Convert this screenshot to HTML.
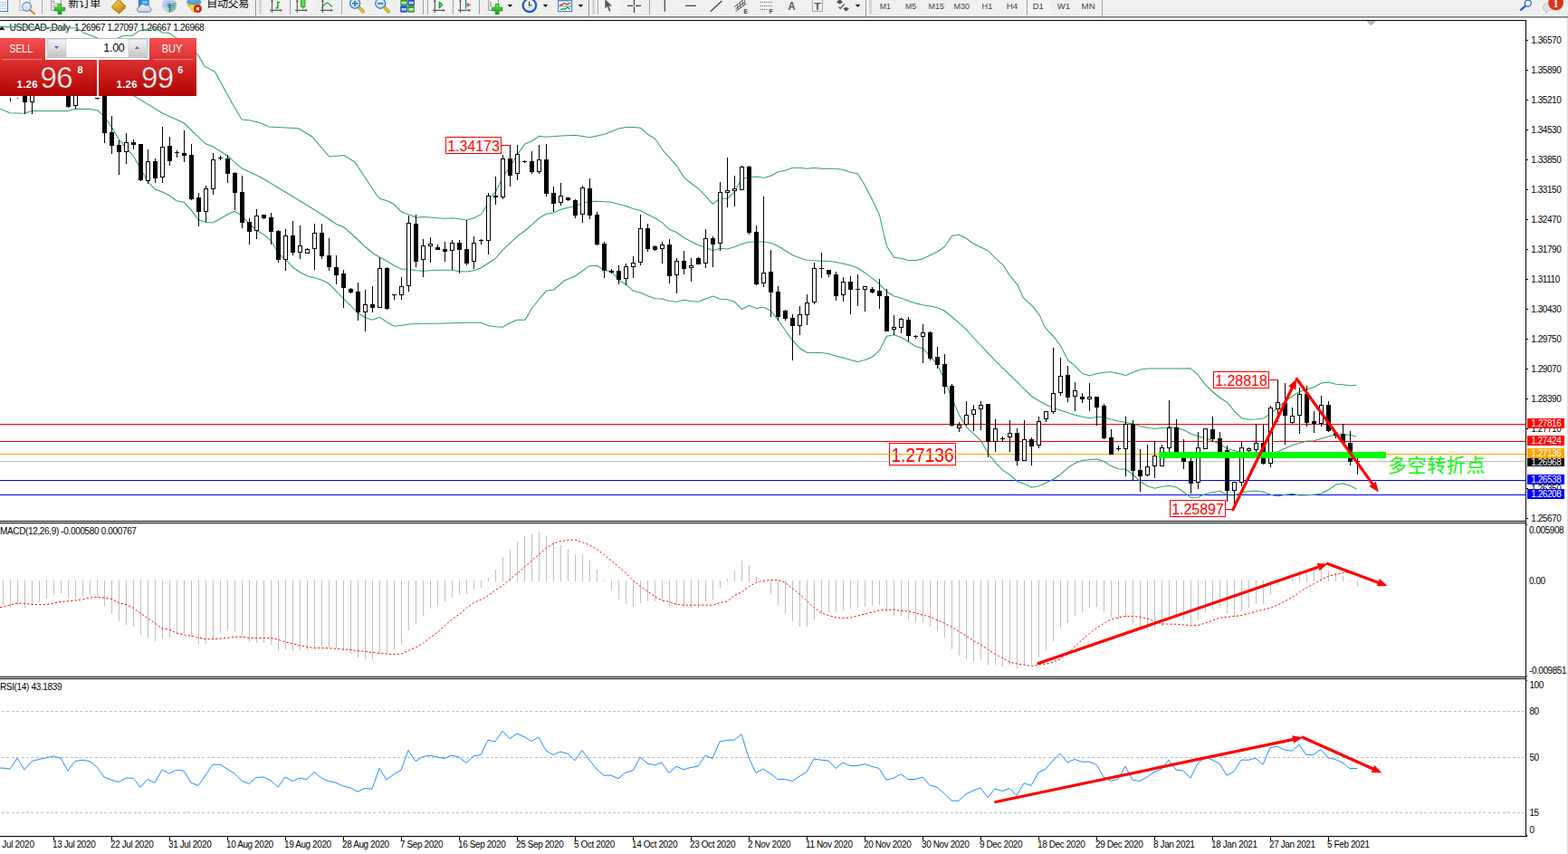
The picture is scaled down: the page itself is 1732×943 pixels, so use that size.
<!DOCTYPE html>
<html><head><meta charset="utf-8"><title>USDCAD Daily</title>
<style>
html,body{margin:0;padding:0;background:#fff;}
body{width:1732px;height:943px;overflow:hidden;position:relative;font-family:"Liberation Sans",sans-serif;}
svg{position:absolute;left:0;top:0;}
text{font-family:"Liberation Sans",sans-serif;}
.ax{font-size:10px;letter-spacing:-0.45px;fill:#000;}
.axw{font-size:10px;letter-spacing:-0.45px;fill:#fff;}
.tb{font-size:9.6px;fill:#444;letter-spacing:0;}
</style></head><body>
<svg width="1732" height="943" viewBox="0 0 1732 943">
<defs>
<linearGradient id="gs" x1="0" y1="0" x2="0" y2="1"><stop offset="0" stop-color="#f65050"/><stop offset="1" stop-color="#da3232"/></linearGradient>
<linearGradient id="gp" x1="0" y1="0" x2="0" y2="1"><stop offset="0" stop-color="#dc3030"/><stop offset="0.6" stop-color="#c41414"/><stop offset="1" stop-color="#ae0404"/></linearGradient>
<linearGradient id="gb" x1="0" y1="0" x2="0" y2="1"><stop offset="0" stop-color="#f2f2f2"/><stop offset="0.5" stop-color="#e0e0e0"/><stop offset="1" stop-color="#c4c4c4"/></linearGradient>
<linearGradient id="gt" x1="0" y1="0" x2="0" y2="1"><stop offset="0" stop-color="#6e6e6e"/><stop offset="1" stop-color="#b8b8b8"/></linearGradient>
</defs>

<rect x="0" y="0" width="1732" height="943" fill="#fff"/>
<rect x="1730.8" y="20" width="1.2" height="923" fill="#e0e0e0"/>
<g id="chart">
<path d="M-1 33 L2 28.2 L5.2 33 Z" fill="#000"/>
<text x="10.6" y="34.3" style="font-size:10.2px" fill="#000" textLength="215" lengthAdjust="spacing">USDCAD-,Daily&#160;&#160;1.26967 1.27097 1.26667 1.26968</text>
<line x1="0" y1="468.5" x2="1685" y2="468.5" stroke="#ff0000" stroke-width="1" shape-rendering="crispEdges"/>
<line x1="0" y1="487.5" x2="1685" y2="487.5" stroke="#ff0000" stroke-width="1" shape-rendering="crispEdges"/>
<line x1="0" y1="501.5" x2="1685" y2="501.5" stroke="#ffa500" stroke-width="1" shape-rendering="crispEdges"/>
<line x1="0" y1="509.5" x2="1685" y2="509.5" stroke="#c0c0c0" stroke-width="1" shape-rendering="crispEdges"/>
<line x1="0" y1="530.5" x2="1685" y2="530.5" stroke="#0000ff" stroke-width="1" shape-rendering="crispEdges"/>
<line x1="0" y1="546.5" x2="1685" y2="546.5" stroke="#0000ff" stroke-width="1" shape-rendering="crispEdges"/>
<polyline points="0,29.6 39.8,30 85,30.9 93,36.6 102.3,39.7 110.2,43.2 127.5,43.2 135.5,39.7 146.1,39.3 154.1,33.9 166,31.3 175.3,33.3 179.3,35.9 187.3,36.6 191.2,39.7 207.2,50.5 219.1,61.2 225.8,73.1 237.6,79.4 246,95 257,115 267,132 277,133 289,136.3 297,140 329.7,141.8 344.5,150.7 363.8,173 380,171.5 392,179 415.8,215 419.5,219.2 427.5,221.7 435.5,225.8 443.5,234.2 451.5,236.7 459.5,240.3 467.5,239.5 475.5,240 483.5,240.8 491.5,241.3 499.5,240.8 507.5,241.7 515.5,243 523.5,240.8 531.5,236.7 536.7,228.3 540,220 547.5,211.7 551.7,203.3 555.5,195 563.5,184.2 571.5,170.8 579.5,159.2 587.5,155.8 595.5,150.3 603.5,151.3 619.5,150 635.5,149.2 651.5,151.7 667.5,148.3 683.5,142 691.5,140.5 699.5,140.5 707.5,141.3 715.5,148.3 723.5,153.3 731.5,165 739.5,174.2 747.5,183.3 755.5,195.8 763.5,202.5 771.5,208.3 779.5,216.7 787.5,225.5 791.7,221.7 795.5,219.2 803.5,219.2 811.5,211.7 815,205 819.5,197.5 827.5,195.8 835.5,195 843.5,196.3 851.5,194.2 859.5,189.7 867.5,188.3 875.5,185.3 883.5,185.3 891.5,186.3 899.5,185.3 907.5,186.3 915.5,186.3 923.5,186.3 931.5,187.5 939.5,190.3 947.5,192 955.5,205 963.5,220.8 971.5,237.5 975,253.3 979.5,271.7 987.5,284.2 995.5,285.3 1003.5,287.5 1011.5,287.5 1019.5,285.8 1027.5,281.7 1035.5,278 1043.5,272.5 1051.5,260.3 1059.5,259.2 1067.5,263.3 1075.5,269.2 1083.5,273 1091.5,277 1099.5,285 1103.7,289.2 1108.2,292.7 1115.1,303.8 1124.1,314.8 1130.3,328.6 1141.3,338.9 1148.2,347.9 1154.4,361.6 1164.7,372.7 1171.5,381.7 1179.5,397.5 1187.5,404.2 1195.5,412.5 1203.5,414.7 1211.5,412.5 1219.5,411.3 1227.5,410.8 1235.5,412.5 1243.5,414.5 1251.5,411.3 1259.5,408 1267.5,407 1283.5,407 1299.5,407 1315,406.7 1323.5,414.2 1331.5,425 1339.5,432.5 1347.5,439.2 1355.5,444.2 1363.5,454.2 1371.5,461.7 1379.5,463.3 1387.5,463 1395.5,462 1403.5,456.7 1411.5,450 1419.5,443 1427.5,437.5 1435.5,432.5 1443.5,430 1451.5,427.5 1459.5,423 1467.5,422 1475.5,424.2 1483.5,424.7 1491.5,425.8 1498.3,425.3" fill="none" stroke="#2fa564" stroke-width="1.05" />
<polyline points="0,75 100,80 151,107.6 179,124.7 203,135.8 227,158.8 235,161.7 251,172 267,185.8 289,196.3 320,215 339.5,226.7 355.5,236.7 371.5,247.5 379.5,250.8 387.5,257.5 395.5,265 403.5,272.5 411.5,279.2 419.5,284.2 427.5,288.3 435.5,293.3 443.5,297.2 451.5,297.2 459.5,298.8 467.5,299.2 483.5,298.3 499.5,298.3 507.5,299.7 515.5,300 523.5,298.7 531.5,295.8 539.5,290.5 547.5,285 555.5,275.8 563.5,268.3 571.5,260.8 579.5,255 587.5,248.3 595.5,240.8 603.5,236.3 611.5,235 619.5,231.3 627.5,229.2 635.5,227.5 643.5,224.2 651.5,222.5 659.5,222.2 667.5,222.8 675.5,223.3 683.5,225.5 691.5,227.5 699.5,230.5 707.5,232.5 715.5,236.7 723.5,240.8 731.5,245.8 739.5,253.3 747.5,256.7 755.5,262.5 763.5,266.7 771.5,270.8 779.5,273.3 787.5,276.7 795.5,274.2 803.5,275 811.5,272.5 819.5,269.2 827.5,267.2 835.5,267 843.5,267 851.5,268.3 859.5,271.7 867.5,276.7 875.5,281.7 883.5,284.7 891.5,287.5 899.5,287.8 907.5,288.3 915.5,288.3 923.5,289.5 931.5,291.3 939.5,293 947.5,296 955.5,301.2 963.5,307.3 971.5,313.7 979.5,322 987.5,327 995.5,329.2 1003.5,332.2 1011.5,335 1019.5,336.7 1027.5,338 1035.5,339.7 1043.5,343.3 1051.5,350 1059.5,356.7 1067.5,364.2 1075.5,373 1083.5,381.5 1091.5,390.2 1099.5,398.3 1107.5,406.3 1115.5,414.2 1123.5,421.7 1131.5,430 1139.5,437.5 1147.5,442.5 1155.5,447 1163.5,450.5 1171.5,453.3 1179.5,455.8 1187.5,458.3 1195.5,460.3 1203.5,461.7 1211.5,460.5 1219.5,460.5 1227.5,463.3 1235.5,465 1243.5,466.5 1251.5,468 1259.5,470.4 1267.5,472.4 1275.5,473.3 1283.5,472.5 1291.5,471.7 1299.5,472 1307.5,474.7 1315.5,479 1323.5,481.7 1331.5,484 1339.5,486.7 1347.5,490.4 1355.5,495.5 1363.5,497.5 1371.5,500 1379.5,502 1387.5,503 1395.5,503 1403.5,501 1410,499.2 1419.5,495 1427.5,491.7 1435.5,489.2 1443.5,487 1451.5,486.7 1459.5,484.2 1467.5,482 1475.5,480 1483.5,479.7 1491.5,480.3 1498.3,482.2" fill="none" stroke="#2fa564" stroke-width="1.05" />
<polyline points="0,120 11,124.7 27,125.3 35,122.5 75,122.5 83,120.3 101,120.5 108,122 115,128.3 123,140 131,153.3 139,163.3 147,171.7 155,185.8 163,200 171,209 179,211.7 187,215.8 195,221.7 203,223.3 211,231.7 219,242.5 227,245.5 235,246 243,241.7 251,237 259,233.3 267,238 275.5,247.5 283.5,254.2 291.5,259.2 299.5,265.8 307.5,280 315.5,286.7 323.5,295 331.5,300.8 339.5,304.7 347.5,306.7 355.5,309.2 363.5,313.3 371.5,321.7 379.5,330 387.5,337.5 395.5,345.8 403.5,350.8 411.5,353.3 419.5,350.3 427.5,355.8 435.5,360.3 443.5,359.2 451.5,358 459.5,357.5 467.5,357.2 483.5,357.2 499.5,356.7 515.5,356.3 531.5,356.3 539.5,359.7 547.5,360.8 555.5,361.3 560,358.3 570.8,353.3 580,353.3 587.5,340.8 595.8,330 603.3,321.3 611.7,320 623.3,310 635,305 643.3,299.2 650.8,293.7 659.5,293.3 667.5,298.3 675.5,300 683.5,309.2 691.5,314.2 699.5,321.3 707.5,323.3 715.5,326.7 723.5,329.7 731.5,330 739.5,332.5 747.5,333.3 755.5,331.3 763.5,332.5 771.5,333.3 779.5,330 787.5,327 795.5,330.3 803.5,330.8 811.5,333.3 819.5,341.5 827.5,337.3 835.5,340.4 843.5,339.3 851.5,343.3 859.5,353.3 867.5,365 875.5,375.8 883.5,384.5 891.5,389.5 899.5,389.5 907.5,389.5 915.5,390.8 923.5,393.3 931.5,395 939.5,397.5 947.5,399.5 955.5,397.5 963.5,394.2 971.5,386.7 979.5,371.3 987.5,369.7 995.5,372.5 1003.5,377.5 1011.5,382.5 1019.5,385 1027.5,393.3 1035.5,402.5 1043.5,420 1051.5,440 1059.5,458.3 1067.5,471.3 1075.5,479.2 1083.5,486.7 1091.5,500.8 1099.5,510.8 1107.5,519.2 1115.5,524.2 1123.5,531.5 1131.5,534.2 1139.5,538.3 1147.5,536.7 1155.5,533 1163.5,529.2 1171.5,523.8 1179.5,516.3 1187.5,511.5 1195.5,508.5 1203.5,507.5 1211.5,507.1 1219.5,509.6 1227.5,514.6 1235.5,517.8 1243.5,518.3 1251.5,524 1259.5,531.7 1267.5,536.7 1275.5,539.2 1283.5,537.2 1291.5,536.2 1299.5,538 1307.5,543.3 1315.5,549.5 1323.5,549 1331.5,545.6 1339.5,543.6 1347.5,542.1 1355.5,546.7 1363.5,547 1371.5,543.5 1379.5,542.5 1387.5,542 1395.5,543.3 1403.5,546.3 1411.5,548 1419.5,546.3 1427.5,545.3 1435.5,547 1443.5,546.7 1451.5,546.3 1459.5,545 1467.5,540.8 1475.5,535.3 1483.5,533.8 1491.5,536.3 1498.3,540" fill="none" stroke="#2fa564" stroke-width="1.05" />
<g shape-rendering="crispEdges">
<rect x="11" y="108" width="1" height="4" fill="#000"/>
<rect x="27" y="90" width="1" height="36" fill="#000"/>
<rect x="25" y="90" width="5" height="23" fill="#000"/>
<rect x="35" y="90" width="1" height="36" fill="#000"/>
<rect x="33" y="90" width="5" height="23" fill="#000"/>
<rect x="34" y="91" width="3" height="21" fill="#fff"/>
<rect x="75" y="90" width="1" height="29" fill="#000"/>
<rect x="73" y="90" width="5" height="28" fill="#000"/>
<rect x="83" y="90" width="1" height="30" fill="#000"/>
<rect x="81" y="90" width="5" height="27" fill="#000"/>
<rect x="82" y="91" width="3" height="25" fill="#fff"/>
<rect x="107" y="108" width="1" height="2" fill="#000"/>
<rect x="105" y="108" width="5" height="1" fill="#000"/>
<rect x="115" y="90" width="1" height="68" fill="#000"/>
<rect x="113" y="90" width="5" height="57" fill="#000"/>
<rect x="123" y="128" width="1" height="42" fill="#000"/>
<rect x="121" y="146" width="5" height="15" fill="#000"/>
<rect x="131" y="155" width="1" height="38" fill="#000"/>
<rect x="129" y="160" width="5" height="8" fill="#000"/>
<rect x="139" y="147" width="1" height="34" fill="#000"/>
<rect x="137" y="157" width="5" height="11" fill="#000"/>
<rect x="138" y="158" width="3" height="9" fill="#fff"/>
<rect x="147" y="154" width="1" height="11" fill="#000"/>
<rect x="145" y="157" width="5" height="3" fill="#000"/>
<rect x="155" y="159" width="1" height="41" fill="#000"/>
<rect x="153" y="159" width="5" height="40" fill="#000"/>
<rect x="163" y="165" width="1" height="38" fill="#000"/>
<rect x="161" y="178" width="5" height="22" fill="#000"/>
<rect x="162" y="179" width="3" height="20" fill="#fff"/>
<rect x="171" y="175" width="1" height="27" fill="#000"/>
<rect x="169" y="178" width="5" height="19" fill="#000"/>
<rect x="179" y="140" width="1" height="62" fill="#000"/>
<rect x="177" y="162" width="5" height="34" fill="#000"/>
<rect x="178" y="163" width="3" height="32" fill="#fff"/>
<rect x="187" y="151" width="1" height="32" fill="#000"/>
<rect x="185" y="161" width="5" height="17" fill="#000"/>
<rect x="195" y="166" width="1" height="8" fill="#000"/>
<rect x="193" y="168" width="5" height="1" fill="#000"/>
<rect x="203" y="144" width="1" height="35" fill="#000"/>
<rect x="201" y="169" width="5" height="3" fill="#000"/>
<rect x="211" y="159" width="1" height="62" fill="#000"/>
<rect x="209" y="171" width="5" height="49" fill="#000"/>
<rect x="219" y="213" width="1" height="37" fill="#000"/>
<rect x="217" y="218" width="5" height="16" fill="#000"/>
<rect x="227" y="205" width="1" height="40" fill="#000"/>
<rect x="225" y="208" width="5" height="26" fill="#000"/>
<rect x="226" y="209" width="3" height="24" fill="#fff"/>
<rect x="235" y="169" width="1" height="46" fill="#000"/>
<rect x="233" y="176" width="5" height="33" fill="#000"/>
<rect x="234" y="177" width="3" height="31" fill="#fff"/>
<rect x="243" y="172" width="1" height="5" fill="#000"/>
<rect x="241" y="174" width="5" height="1" fill="#000"/>
<rect x="251" y="171" width="1" height="31" fill="#000"/>
<rect x="249" y="175" width="5" height="17" fill="#000"/>
<rect x="259" y="190" width="1" height="42" fill="#000"/>
<rect x="257" y="191" width="5" height="22" fill="#000"/>
<rect x="267" y="194" width="1" height="58" fill="#000"/>
<rect x="265" y="212" width="5" height="34" fill="#000"/>
<rect x="275" y="241" width="1" height="29" fill="#000"/>
<rect x="273" y="245" width="5" height="11" fill="#000"/>
<rect x="283" y="231" width="1" height="33" fill="#000"/>
<rect x="281" y="238" width="5" height="17" fill="#000"/>
<rect x="282" y="239" width="3" height="15" fill="#fff"/>
<rect x="291" y="237" width="1" height="5" fill="#000"/>
<rect x="289" y="237" width="5" height="4" fill="#000"/>
<rect x="299" y="235" width="1" height="35" fill="#000"/>
<rect x="297" y="240" width="5" height="16" fill="#000"/>
<rect x="307" y="254" width="1" height="36" fill="#000"/>
<rect x="305" y="255" width="5" height="32" fill="#000"/>
<rect x="315" y="253" width="1" height="46" fill="#000"/>
<rect x="313" y="260" width="5" height="27" fill="#000"/>
<rect x="314" y="261" width="3" height="25" fill="#fff"/>
<rect x="323" y="244" width="1" height="38" fill="#000"/>
<rect x="321" y="260" width="5" height="19" fill="#000"/>
<rect x="331" y="249" width="1" height="37" fill="#000"/>
<rect x="329" y="271" width="5" height="8" fill="#000"/>
<rect x="330" y="272" width="3" height="6" fill="#fff"/>
<rect x="339" y="274" width="1" height="6" fill="#000"/>
<rect x="337" y="275" width="5" height="5" fill="#000"/>
<rect x="338" y="276" width="3" height="3" fill="#fff"/>
<rect x="347" y="247" width="1" height="51" fill="#000"/>
<rect x="345" y="257" width="5" height="18" fill="#000"/>
<rect x="346" y="258" width="3" height="16" fill="#fff"/>
<rect x="355" y="247" width="1" height="39" fill="#000"/>
<rect x="353" y="257" width="5" height="26" fill="#000"/>
<rect x="363" y="263" width="1" height="36" fill="#000"/>
<rect x="361" y="282" width="5" height="13" fill="#000"/>
<rect x="371" y="282" width="1" height="32" fill="#000"/>
<rect x="369" y="295" width="5" height="9" fill="#000"/>
<rect x="379" y="298" width="1" height="42" fill="#000"/>
<rect x="377" y="302" width="5" height="16" fill="#000"/>
<rect x="387" y="318" width="1" height="6" fill="#000"/>
<rect x="385" y="319" width="5" height="4" fill="#000"/>
<rect x="395" y="312" width="1" height="42" fill="#000"/>
<rect x="393" y="322" width="5" height="23" fill="#000"/>
<rect x="403" y="320" width="1" height="46" fill="#000"/>
<rect x="401" y="336" width="5" height="9" fill="#000"/>
<rect x="402" y="337" width="3" height="7" fill="#fff"/>
<rect x="411" y="316" width="1" height="29" fill="#000"/>
<rect x="409" y="336" width="5" height="4" fill="#000"/>
<rect x="419" y="284" width="1" height="56" fill="#000"/>
<rect x="417" y="296" width="5" height="44" fill="#000"/>
<rect x="418" y="297" width="3" height="42" fill="#fff"/>
<rect x="427" y="295" width="1" height="47" fill="#000"/>
<rect x="425" y="296" width="5" height="45" fill="#000"/>
<rect x="435" y="325" width="1" height="6" fill="#000"/>
<rect x="433" y="325" width="5" height="1" fill="#000"/>
<rect x="443" y="306" width="1" height="25" fill="#000"/>
<rect x="441" y="316" width="5" height="10" fill="#000"/>
<rect x="442" y="317" width="3" height="8" fill="#fff"/>
<rect x="451" y="238" width="1" height="84" fill="#000"/>
<rect x="449" y="246" width="5" height="70" fill="#000"/>
<rect x="450" y="247" width="3" height="68" fill="#fff"/>
<rect x="459" y="237" width="1" height="58" fill="#000"/>
<rect x="457" y="247" width="5" height="42" fill="#000"/>
<rect x="467" y="264" width="1" height="42" fill="#000"/>
<rect x="465" y="271" width="5" height="16" fill="#000"/>
<rect x="466" y="272" width="3" height="14" fill="#fff"/>
<rect x="475" y="262" width="1" height="28" fill="#000"/>
<rect x="473" y="269" width="5" height="3" fill="#000"/>
<rect x="474" y="270" width="3" height="1" fill="#fff"/>
<rect x="483" y="270" width="1" height="6" fill="#000"/>
<rect x="481" y="273" width="5" height="3" fill="#000"/>
<rect x="491" y="267" width="1" height="22" fill="#000"/>
<rect x="489" y="275" width="5" height="3" fill="#000"/>
<rect x="499" y="265" width="1" height="33" fill="#000"/>
<rect x="497" y="268" width="5" height="9" fill="#000"/>
<rect x="498" y="269" width="3" height="7" fill="#fff"/>
<rect x="507" y="265" width="1" height="37" fill="#000"/>
<rect x="505" y="268" width="5" height="8" fill="#000"/>
<rect x="515" y="243" width="1" height="50" fill="#000"/>
<rect x="513" y="275" width="5" height="16" fill="#000"/>
<rect x="523" y="261" width="1" height="36" fill="#000"/>
<rect x="521" y="268" width="5" height="21" fill="#000"/>
<rect x="522" y="269" width="3" height="19" fill="#fff"/>
<rect x="531" y="264" width="1" height="6" fill="#000"/>
<rect x="529" y="265" width="5" height="1" fill="#000"/>
<rect x="539" y="213" width="1" height="68" fill="#000"/>
<rect x="537" y="216" width="5" height="50" fill="#000"/>
<rect x="538" y="217" width="3" height="48" fill="#fff"/>
<rect x="547" y="195" width="1" height="31" fill="#000"/>
<rect x="545" y="216" width="5" height="2" fill="#000"/>
<rect x="555" y="171" width="1" height="49" fill="#000"/>
<rect x="553" y="175" width="5" height="43" fill="#000"/>
<rect x="554" y="176" width="3" height="41" fill="#fff"/>
<rect x="563" y="160" width="1" height="46" fill="#000"/>
<rect x="561" y="175" width="5" height="19" fill="#000"/>
<rect x="571" y="160" width="1" height="39" fill="#000"/>
<rect x="569" y="170" width="5" height="22" fill="#000"/>
<rect x="570" y="171" width="3" height="20" fill="#fff"/>
<rect x="579" y="177" width="1" height="3" fill="#000"/>
<rect x="577" y="178" width="5" height="1" fill="#000"/>
<rect x="587" y="167" width="1" height="25" fill="#000"/>
<rect x="585" y="178" width="5" height="12" fill="#000"/>
<rect x="595" y="160" width="1" height="32" fill="#000"/>
<rect x="593" y="176" width="5" height="14" fill="#000"/>
<rect x="594" y="177" width="3" height="12" fill="#fff"/>
<rect x="603" y="159" width="1" height="58" fill="#000"/>
<rect x="601" y="176" width="5" height="38" fill="#000"/>
<rect x="611" y="206" width="1" height="28" fill="#000"/>
<rect x="609" y="213" width="5" height="12" fill="#000"/>
<rect x="619" y="202" width="1" height="25" fill="#000"/>
<rect x="617" y="216" width="5" height="8" fill="#000"/>
<rect x="618" y="217" width="3" height="6" fill="#fff"/>
<rect x="627" y="218" width="1" height="4" fill="#000"/>
<rect x="625" y="218" width="5" height="3" fill="#000"/>
<rect x="635" y="220" width="1" height="21" fill="#000"/>
<rect x="633" y="221" width="5" height="17" fill="#000"/>
<rect x="643" y="205" width="1" height="41" fill="#000"/>
<rect x="641" y="207" width="5" height="30" fill="#000"/>
<rect x="642" y="208" width="3" height="28" fill="#fff"/>
<rect x="651" y="197" width="1" height="45" fill="#000"/>
<rect x="649" y="208" width="5" height="30" fill="#000"/>
<rect x="659" y="234" width="1" height="37" fill="#000"/>
<rect x="657" y="237" width="5" height="33" fill="#000"/>
<rect x="667" y="267" width="1" height="40" fill="#000"/>
<rect x="665" y="269" width="5" height="30" fill="#000"/>
<rect x="675" y="297" width="1" height="5" fill="#000"/>
<rect x="673" y="299" width="5" height="2" fill="#000"/>
<rect x="683" y="293" width="1" height="21" fill="#000"/>
<rect x="681" y="299" width="5" height="10" fill="#000"/>
<rect x="691" y="291" width="1" height="24" fill="#000"/>
<rect x="689" y="294" width="5" height="14" fill="#000"/>
<rect x="690" y="295" width="3" height="12" fill="#fff"/>
<rect x="699" y="283" width="1" height="24" fill="#000"/>
<rect x="697" y="290" width="5" height="5" fill="#000"/>
<rect x="698" y="291" width="3" height="3" fill="#fff"/>
<rect x="707" y="237" width="1" height="56" fill="#000"/>
<rect x="705" y="252" width="5" height="38" fill="#000"/>
<rect x="706" y="253" width="3" height="36" fill="#fff"/>
<rect x="715" y="247" width="1" height="31" fill="#000"/>
<rect x="713" y="252" width="5" height="23" fill="#000"/>
<rect x="723" y="271" width="1" height="6" fill="#000"/>
<rect x="721" y="272" width="5" height="4" fill="#000"/>
<rect x="731" y="267" width="1" height="24" fill="#000"/>
<rect x="729" y="270" width="5" height="5" fill="#000"/>
<rect x="730" y="271" width="3" height="3" fill="#fff"/>
<rect x="739" y="264" width="1" height="49" fill="#000"/>
<rect x="737" y="270" width="5" height="35" fill="#000"/>
<rect x="747" y="285" width="1" height="39" fill="#000"/>
<rect x="745" y="288" width="5" height="16" fill="#000"/>
<rect x="746" y="289" width="3" height="14" fill="#fff"/>
<rect x="755" y="277" width="1" height="26" fill="#000"/>
<rect x="753" y="288" width="5" height="9" fill="#000"/>
<rect x="763" y="285" width="1" height="26" fill="#000"/>
<rect x="761" y="293" width="5" height="3" fill="#000"/>
<rect x="762" y="294" width="3" height="1" fill="#fff"/>
<rect x="771" y="284" width="1" height="8" fill="#000"/>
<rect x="769" y="285" width="5" height="7" fill="#000"/>
<rect x="779" y="253" width="1" height="43" fill="#000"/>
<rect x="777" y="263" width="5" height="28" fill="#000"/>
<rect x="778" y="264" width="3" height="26" fill="#fff"/>
<rect x="787" y="261" width="1" height="34" fill="#000"/>
<rect x="785" y="263" width="5" height="7" fill="#000"/>
<rect x="795" y="201" width="1" height="76" fill="#000"/>
<rect x="793" y="212" width="5" height="57" fill="#000"/>
<rect x="794" y="213" width="3" height="55" fill="#fff"/>
<rect x="803" y="174" width="1" height="55" fill="#000"/>
<rect x="801" y="210" width="5" height="3" fill="#000"/>
<rect x="802" y="211" width="3" height="1" fill="#fff"/>
<rect x="811" y="194" width="1" height="34" fill="#000"/>
<rect x="809" y="208" width="5" height="3" fill="#000"/>
<rect x="810" y="209" width="3" height="1" fill="#fff"/>
<rect x="819" y="183" width="1" height="27" fill="#000"/>
<rect x="817" y="184" width="5" height="26" fill="#000"/>
<rect x="818" y="185" width="3" height="24" fill="#fff"/>
<rect x="827" y="183" width="1" height="76" fill="#000"/>
<rect x="825" y="184" width="5" height="73" fill="#000"/>
<rect x="835" y="249" width="1" height="66" fill="#000"/>
<rect x="833" y="256" width="5" height="58" fill="#000"/>
<rect x="843" y="217" width="1" height="100" fill="#000"/>
<rect x="841" y="301" width="5" height="12" fill="#000"/>
<rect x="842" y="302" width="3" height="10" fill="#fff"/>
<rect x="851" y="276" width="1" height="74" fill="#000"/>
<rect x="849" y="300" width="5" height="23" fill="#000"/>
<rect x="859" y="316" width="1" height="38" fill="#000"/>
<rect x="857" y="322" width="5" height="28" fill="#000"/>
<rect x="867" y="342" width="1" height="12" fill="#000"/>
<rect x="865" y="343" width="5" height="9" fill="#000"/>
<rect x="875" y="347" width="1" height="51" fill="#000"/>
<rect x="873" y="351" width="5" height="9" fill="#000"/>
<rect x="883" y="338" width="1" height="32" fill="#000"/>
<rect x="881" y="347" width="5" height="13" fill="#000"/>
<rect x="882" y="348" width="3" height="11" fill="#fff"/>
<rect x="891" y="325" width="1" height="34" fill="#000"/>
<rect x="889" y="334" width="5" height="14" fill="#000"/>
<rect x="890" y="335" width="3" height="12" fill="#fff"/>
<rect x="899" y="290" width="1" height="46" fill="#000"/>
<rect x="897" y="296" width="5" height="38" fill="#000"/>
<rect x="898" y="297" width="3" height="36" fill="#fff"/>
<rect x="907" y="279" width="1" height="28" fill="#000"/>
<rect x="905" y="296" width="5" height="1" fill="#000"/>
<rect x="915" y="298" width="1" height="8" fill="#000"/>
<rect x="913" y="298" width="5" height="5" fill="#000"/>
<rect x="923" y="300" width="1" height="32" fill="#000"/>
<rect x="921" y="303" width="5" height="24" fill="#000"/>
<rect x="931" y="306" width="1" height="27" fill="#000"/>
<rect x="929" y="311" width="5" height="15" fill="#000"/>
<rect x="930" y="312" width="3" height="13" fill="#fff"/>
<rect x="939" y="305" width="1" height="42" fill="#000"/>
<rect x="937" y="311" width="5" height="9" fill="#000"/>
<rect x="947" y="303" width="1" height="35" fill="#000"/>
<rect x="945" y="319" width="5" height="1" fill="#000"/>
<rect x="955" y="316" width="1" height="28" fill="#000"/>
<rect x="953" y="316" width="5" height="4" fill="#000"/>
<rect x="954" y="317" width="3" height="2" fill="#fff"/>
<rect x="963" y="317" width="1" height="7" fill="#000"/>
<rect x="961" y="319" width="5" height="4" fill="#000"/>
<rect x="971" y="308" width="1" height="33" fill="#000"/>
<rect x="969" y="321" width="5" height="6" fill="#000"/>
<rect x="979" y="319" width="1" height="47" fill="#000"/>
<rect x="977" y="327" width="5" height="39" fill="#000"/>
<rect x="987" y="348" width="1" height="22" fill="#000"/>
<rect x="985" y="361" width="5" height="3" fill="#000"/>
<rect x="986" y="362" width="3" height="1" fill="#fff"/>
<rect x="995" y="351" width="1" height="17" fill="#000"/>
<rect x="993" y="352" width="5" height="10" fill="#000"/>
<rect x="994" y="353" width="3" height="8" fill="#fff"/>
<rect x="1003" y="350" width="1" height="27" fill="#000"/>
<rect x="1001" y="353" width="5" height="18" fill="#000"/>
<rect x="1011" y="370" width="1" height="4" fill="#000"/>
<rect x="1009" y="371" width="5" height="1" fill="#000"/>
<rect x="1019" y="358" width="1" height="43" fill="#000"/>
<rect x="1017" y="367" width="5" height="5" fill="#000"/>
<rect x="1018" y="368" width="3" height="3" fill="#fff"/>
<rect x="1027" y="366" width="1" height="32" fill="#000"/>
<rect x="1025" y="367" width="5" height="29" fill="#000"/>
<rect x="1035" y="383" width="1" height="24" fill="#000"/>
<rect x="1033" y="394" width="5" height="9" fill="#000"/>
<rect x="1043" y="391" width="1" height="44" fill="#000"/>
<rect x="1041" y="402" width="5" height="25" fill="#000"/>
<rect x="1051" y="424" width="1" height="47" fill="#000"/>
<rect x="1049" y="426" width="5" height="44" fill="#000"/>
<rect x="1059" y="466" width="1" height="11" fill="#000"/>
<rect x="1057" y="469" width="5" height="4" fill="#000"/>
<rect x="1058" y="470" width="3" height="2" fill="#fff"/>
<rect x="1067" y="443" width="1" height="27" fill="#000"/>
<rect x="1065" y="458" width="5" height="11" fill="#000"/>
<rect x="1066" y="459" width="3" height="9" fill="#fff"/>
<rect x="1075" y="447" width="1" height="29" fill="#000"/>
<rect x="1073" y="452" width="5" height="6" fill="#000"/>
<rect x="1074" y="453" width="3" height="4" fill="#fff"/>
<rect x="1083" y="443" width="1" height="32" fill="#000"/>
<rect x="1081" y="447" width="5" height="5" fill="#000"/>
<rect x="1082" y="448" width="3" height="3" fill="#fff"/>
<rect x="1091" y="446" width="1" height="59" fill="#000"/>
<rect x="1089" y="446" width="5" height="42" fill="#000"/>
<rect x="1099" y="463" width="1" height="36" fill="#000"/>
<rect x="1097" y="473" width="5" height="15" fill="#000"/>
<rect x="1098" y="474" width="3" height="13" fill="#fff"/>
<rect x="1107" y="482" width="1" height="5" fill="#000"/>
<rect x="1105" y="484" width="5" height="1" fill="#000"/>
<rect x="1115" y="464" width="1" height="35" fill="#000"/>
<rect x="1113" y="478" width="5" height="5" fill="#000"/>
<rect x="1114" y="479" width="3" height="3" fill="#fff"/>
<rect x="1123" y="473" width="1" height="41" fill="#000"/>
<rect x="1121" y="478" width="5" height="31" fill="#000"/>
<rect x="1131" y="464" width="1" height="44" fill="#000"/>
<rect x="1129" y="485" width="5" height="24" fill="#000"/>
<rect x="1130" y="486" width="3" height="22" fill="#fff"/>
<rect x="1139" y="483" width="1" height="31" fill="#000"/>
<rect x="1137" y="485" width="5" height="8" fill="#000"/>
<rect x="1147" y="460" width="1" height="35" fill="#000"/>
<rect x="1145" y="465" width="5" height="27" fill="#000"/>
<rect x="1146" y="466" width="3" height="25" fill="#fff"/>
<rect x="1155" y="454" width="1" height="12" fill="#000"/>
<rect x="1153" y="454" width="5" height="9" fill="#000"/>
<rect x="1154" y="455" width="3" height="7" fill="#fff"/>
<rect x="1163" y="384" width="1" height="73" fill="#000"/>
<rect x="1161" y="434" width="5" height="21" fill="#000"/>
<rect x="1162" y="435" width="3" height="19" fill="#fff"/>
<rect x="1171" y="395" width="1" height="42" fill="#000"/>
<rect x="1169" y="415" width="5" height="19" fill="#000"/>
<rect x="1170" y="416" width="3" height="17" fill="#fff"/>
<rect x="1179" y="404" width="1" height="40" fill="#000"/>
<rect x="1177" y="414" width="5" height="25" fill="#000"/>
<rect x="1187" y="422" width="1" height="32" fill="#000"/>
<rect x="1185" y="431" width="5" height="7" fill="#000"/>
<rect x="1186" y="432" width="3" height="5" fill="#fff"/>
<rect x="1195" y="434" width="1" height="11" fill="#000"/>
<rect x="1193" y="438" width="5" height="3" fill="#000"/>
<rect x="1203" y="423" width="1" height="31" fill="#000"/>
<rect x="1201" y="438" width="5" height="3" fill="#000"/>
<rect x="1202" y="439" width="3" height="1" fill="#fff"/>
<rect x="1211" y="438" width="1" height="32" fill="#000"/>
<rect x="1209" y="438" width="5" height="12" fill="#000"/>
<rect x="1219" y="446" width="1" height="39" fill="#000"/>
<rect x="1217" y="448" width="5" height="36" fill="#000"/>
<rect x="1227" y="474" width="1" height="28" fill="#000"/>
<rect x="1225" y="483" width="5" height="19" fill="#000"/>
<rect x="1235" y="492" width="1" height="6" fill="#000"/>
<rect x="1233" y="495" width="5" height="1" fill="#000"/>
<rect x="1243" y="460" width="1" height="66" fill="#000"/>
<rect x="1241" y="468" width="5" height="28" fill="#000"/>
<rect x="1242" y="469" width="3" height="26" fill="#fff"/>
<rect x="1251" y="464" width="1" height="66" fill="#000"/>
<rect x="1249" y="468" width="5" height="52" fill="#000"/>
<rect x="1259" y="496" width="1" height="47" fill="#000"/>
<rect x="1257" y="519" width="5" height="7" fill="#000"/>
<rect x="1267" y="491" width="1" height="35" fill="#000"/>
<rect x="1265" y="515" width="5" height="10" fill="#000"/>
<rect x="1266" y="516" width="3" height="8" fill="#fff"/>
<rect x="1275" y="487" width="1" height="41" fill="#000"/>
<rect x="1273" y="503" width="5" height="12" fill="#000"/>
<rect x="1274" y="504" width="3" height="10" fill="#fff"/>
<rect x="1283" y="491" width="1" height="24" fill="#000"/>
<rect x="1281" y="494" width="5" height="21" fill="#000"/>
<rect x="1282" y="495" width="3" height="19" fill="#fff"/>
<rect x="1291" y="442" width="1" height="57" fill="#000"/>
<rect x="1289" y="472" width="5" height="23" fill="#000"/>
<rect x="1290" y="473" width="3" height="21" fill="#fff"/>
<rect x="1299" y="463" width="1" height="38" fill="#000"/>
<rect x="1297" y="472" width="5" height="29" fill="#000"/>
<rect x="1307" y="485" width="1" height="33" fill="#000"/>
<rect x="1305" y="506" width="5" height="4" fill="#000"/>
<rect x="1315" y="505" width="1" height="40" fill="#000"/>
<rect x="1313" y="509" width="5" height="25" fill="#000"/>
<rect x="1323" y="477" width="1" height="63" fill="#000"/>
<rect x="1321" y="494" width="5" height="39" fill="#000"/>
<rect x="1322" y="495" width="3" height="37" fill="#fff"/>
<rect x="1331" y="473" width="1" height="23" fill="#000"/>
<rect x="1329" y="473" width="5" height="23" fill="#000"/>
<rect x="1330" y="474" width="3" height="21" fill="#fff"/>
<rect x="1339" y="460" width="1" height="28" fill="#000"/>
<rect x="1337" y="474" width="5" height="11" fill="#000"/>
<rect x="1347" y="477" width="1" height="22" fill="#000"/>
<rect x="1345" y="484" width="5" height="15" fill="#000"/>
<rect x="1355" y="492" width="1" height="62" fill="#000"/>
<rect x="1353" y="497" width="5" height="45" fill="#000"/>
<rect x="1363" y="532" width="1" height="30" fill="#000"/>
<rect x="1361" y="532" width="5" height="10" fill="#000"/>
<rect x="1362" y="533" width="3" height="8" fill="#fff"/>
<rect x="1371" y="488" width="1" height="49" fill="#000"/>
<rect x="1369" y="494" width="5" height="39" fill="#000"/>
<rect x="1370" y="495" width="3" height="37" fill="#fff"/>
<rect x="1379" y="494" width="1" height="5" fill="#000"/>
<rect x="1377" y="495" width="5" height="3" fill="#000"/>
<rect x="1378" y="496" width="3" height="1" fill="#fff"/>
<rect x="1387" y="468" width="1" height="31" fill="#000"/>
<rect x="1385" y="489" width="5" height="8" fill="#000"/>
<rect x="1386" y="490" width="3" height="6" fill="#fff"/>
<rect x="1395" y="468" width="1" height="45" fill="#000"/>
<rect x="1393" y="489" width="5" height="23" fill="#000"/>
<rect x="1403" y="448" width="1" height="68" fill="#000"/>
<rect x="1401" y="450" width="5" height="62" fill="#000"/>
<rect x="1402" y="451" width="3" height="60" fill="#fff"/>
<rect x="1411" y="420" width="1" height="46" fill="#000"/>
<rect x="1409" y="444" width="5" height="8" fill="#000"/>
<rect x="1410" y="445" width="3" height="6" fill="#fff"/>
<rect x="1419" y="423" width="1" height="68" fill="#000"/>
<rect x="1417" y="445" width="5" height="14" fill="#000"/>
<rect x="1427" y="450" width="1" height="18" fill="#000"/>
<rect x="1425" y="459" width="5" height="8" fill="#000"/>
<rect x="1426" y="460" width="3" height="6" fill="#fff"/>
<rect x="1435" y="428" width="1" height="51" fill="#000"/>
<rect x="1433" y="435" width="5" height="24" fill="#000"/>
<rect x="1434" y="436" width="3" height="22" fill="#fff"/>
<rect x="1443" y="426" width="1" height="45" fill="#000"/>
<rect x="1441" y="435" width="5" height="32" fill="#000"/>
<rect x="1451" y="454" width="1" height="24" fill="#000"/>
<rect x="1449" y="465" width="5" height="3" fill="#000"/>
<rect x="1459" y="437" width="1" height="34" fill="#000"/>
<rect x="1457" y="447" width="5" height="21" fill="#000"/>
<rect x="1458" y="448" width="3" height="19" fill="#fff"/>
<rect x="1467" y="443" width="1" height="34" fill="#000"/>
<rect x="1465" y="447" width="5" height="29" fill="#000"/>
<rect x="1475" y="478" width="1" height="6" fill="#000"/>
<rect x="1473" y="478" width="5" height="3" fill="#000"/>
<rect x="1483" y="468" width="1" height="22" fill="#000"/>
<rect x="1481" y="479" width="5" height="10" fill="#000"/>
<rect x="1491" y="476" width="1" height="38" fill="#000"/>
<rect x="1489" y="489" width="5" height="21" fill="#000"/>
<rect x="1499" y="505" width="1" height="19" fill="#000"/>
<rect x="1497" y="509" width="5" height="1" fill="#000"/>
<rect x="19" y="108" width="1" height="1" fill="#000"/>
</g>
<rect x="1280" y="499" width="251" height="7" fill="#00ff00" shape-rendering="crispEdges"/>
<rect x="492.5" y="151.5" width="61" height="18" fill="#fff" stroke="#ff0000" stroke-width="1" shape-rendering="crispEdges"/>
<text x="523.0" y="167" text-anchor="middle" style="font-size:17px" fill="#ff0000" textLength="57.5" lengthAdjust="spacingAndGlyphs">1.34173</text>
<path d="M553.5 160.5 H563.5" stroke="#ff0000" stroke-width="1" shape-rendering="crispEdges" fill="none"/>
<rect x="1340.5" y="410.5" width="61" height="18" fill="#fff" stroke="#ff0000" stroke-width="1" shape-rendering="crispEdges"/>
<text x="1371.0" y="425.8" text-anchor="middle" style="font-size:17px" fill="#ff0000" textLength="57.5" lengthAdjust="spacingAndGlyphs">1.28818</text>
<path d="M1401.5 419.5 H1411.5" stroke="#ff0000" stroke-width="1" shape-rendering="crispEdges" fill="none"/>
<rect x="1292.5" y="552.5" width="61" height="18" fill="#fff" stroke="#ff0000" stroke-width="1" shape-rendering="crispEdges"/>
<text x="1323.0" y="567.8" text-anchor="middle" style="font-size:17px" fill="#ff0000" textLength="57.5" lengthAdjust="spacingAndGlyphs">1.25897</text>
<path d="M1353.5 562.5 H1362" stroke="#ff0000" stroke-width="1" shape-rendering="crispEdges" fill="none"/>
<rect x="982.5" y="489.5" width="73" height="24" fill="#fff" stroke="#ff0000" stroke-width="1" shape-rendering="crispEdges"/>
<text x="1019.0" y="509.8" text-anchor="middle" style="font-size:22px" fill="#ff0000" textLength="69" lengthAdjust="spacingAndGlyphs">1.27136</text>
<line x1="982" y1="501.5" x2="1056" y2="501.5" stroke="#ffa500" stroke-width="1" shape-rendering="crispEdges"/>
<line x1="1362" y1="562.5" x2="1428.1" y2="426.7" stroke="#ff0000" stroke-width="3.2" stroke-linecap="round"/>
<polygon points="1432.3,418.2 1431.4,430.6 1423.1,426.5" fill="#ff0000"/>
<line x1="1432.3" y1="418.2" x2="1517.2" y2="535.9" stroke="#ff0000" stroke-width="3.2" stroke-linecap="round"/>
<polygon points="1522.8,543.6 1512.3,537 1519.8,531.6" fill="#ff0000"/>
<text x="1533" y="520.5" style="font-family:'Liberation Sans','Noto Sans CJK SC',sans-serif;font-size:21px;letter-spacing:0.6px" fill="#0cf80c">多空转折点</text>
</g>
<g id="macd">
<g shape-rendering="crispEdges">
<rect x="3" y="641" width="1" height="27" fill="#c0c0c0"/>
<rect x="11" y="641" width="1" height="30" fill="#c0c0c0"/>
<rect x="19" y="641" width="1" height="27" fill="#c0c0c0"/>
<rect x="27" y="641" width="1" height="30" fill="#c0c0c0"/>
<rect x="35" y="641" width="1" height="27" fill="#c0c0c0"/>
<rect x="43" y="641" width="1" height="24" fill="#c0c0c0"/>
<rect x="51" y="641" width="1" height="20" fill="#c0c0c0"/>
<rect x="59" y="641" width="1" height="16" fill="#c0c0c0"/>
<rect x="67" y="641" width="1" height="14" fill="#c0c0c0"/>
<rect x="75" y="641" width="1" height="19" fill="#c0c0c0"/>
<rect x="83" y="641" width="1" height="19" fill="#c0c0c0"/>
<rect x="91" y="641" width="1" height="17" fill="#c0c0c0"/>
<rect x="99" y="641" width="1" height="16" fill="#c0c0c0"/>
<rect x="107" y="641" width="1" height="19" fill="#c0c0c0"/>
<rect x="115" y="641" width="1" height="28" fill="#c0c0c0"/>
<rect x="123" y="641" width="1" height="37" fill="#c0c0c0"/>
<rect x="131" y="641" width="1" height="45" fill="#c0c0c0"/>
<rect x="139" y="641" width="1" height="49" fill="#c0c0c0"/>
<rect x="147" y="641" width="1" height="51" fill="#c0c0c0"/>
<rect x="155" y="641" width="1" height="60" fill="#c0c0c0"/>
<rect x="163" y="641" width="1" height="63" fill="#c0c0c0"/>
<rect x="171" y="641" width="1" height="67" fill="#c0c0c0"/>
<rect x="179" y="641" width="1" height="64" fill="#c0c0c0"/>
<rect x="187" y="641" width="1" height="63" fill="#c0c0c0"/>
<rect x="195" y="641" width="1" height="59" fill="#c0c0c0"/>
<rect x="203" y="641" width="1" height="58" fill="#c0c0c0"/>
<rect x="211" y="641" width="1" height="63" fill="#c0c0c0"/>
<rect x="219" y="641" width="1" height="70" fill="#c0c0c0"/>
<rect x="227" y="641" width="1" height="70" fill="#c0c0c0"/>
<rect x="235" y="641" width="1" height="64" fill="#c0c0c0"/>
<rect x="243" y="641" width="1" height="58" fill="#c0c0c0"/>
<rect x="251" y="641" width="1" height="55" fill="#c0c0c0"/>
<rect x="259" y="641" width="1" height="57" fill="#c0c0c0"/>
<rect x="267" y="641" width="1" height="63" fill="#c0c0c0"/>
<rect x="275" y="641" width="1" height="68" fill="#c0c0c0"/>
<rect x="283" y="641" width="1" height="69" fill="#c0c0c0"/>
<rect x="291" y="641" width="1" height="69" fill="#c0c0c0"/>
<rect x="299" y="641" width="1" height="71" fill="#c0c0c0"/>
<rect x="307" y="641" width="1" height="77" fill="#c0c0c0"/>
<rect x="315" y="641" width="1" height="76" fill="#c0c0c0"/>
<rect x="323" y="641" width="1" height="78" fill="#c0c0c0"/>
<rect x="331" y="641" width="1" height="77" fill="#c0c0c0"/>
<rect x="339" y="641" width="1" height="77" fill="#c0c0c0"/>
<rect x="347" y="641" width="1" height="73" fill="#c0c0c0"/>
<rect x="355" y="641" width="1" height="73" fill="#c0c0c0"/>
<rect x="363" y="641" width="1" height="74" fill="#c0c0c0"/>
<rect x="371" y="641" width="1" height="75" fill="#c0c0c0"/>
<rect x="379" y="641" width="1" height="78" fill="#c0c0c0"/>
<rect x="387" y="641" width="1" height="81" fill="#c0c0c0"/>
<rect x="395" y="641" width="1" height="85" fill="#c0c0c0"/>
<rect x="403" y="641" width="1" height="87" fill="#c0c0c0"/>
<rect x="411" y="641" width="1" height="87" fill="#c0c0c0"/>
<rect x="419" y="641" width="1" height="81" fill="#c0c0c0"/>
<rect x="427" y="641" width="1" height="80" fill="#c0c0c0"/>
<rect x="435" y="641" width="1" height="77" fill="#c0c0c0"/>
<rect x="443" y="641" width="1" height="71" fill="#c0c0c0"/>
<rect x="451" y="641" width="1" height="55" fill="#c0c0c0"/>
<rect x="459" y="641" width="1" height="48" fill="#c0c0c0"/>
<rect x="467" y="641" width="1" height="39" fill="#c0c0c0"/>
<rect x="475" y="641" width="1" height="31" fill="#c0c0c0"/>
<rect x="483" y="641" width="1" height="27" fill="#c0c0c0"/>
<rect x="491" y="641" width="1" height="23" fill="#c0c0c0"/>
<rect x="499" y="641" width="1" height="18" fill="#c0c0c0"/>
<rect x="507" y="641" width="1" height="15" fill="#c0c0c0"/>
<rect x="515" y="641" width="1" height="15" fill="#c0c0c0"/>
<rect x="523" y="641" width="1" height="10" fill="#c0c0c0"/>
<rect x="531" y="641" width="1" height="8" fill="#c0c0c0"/>
<rect x="539" y="638" width="1" height="4" fill="#c0c0c0"/>
<rect x="547" y="629" width="1" height="13" fill="#c0c0c0"/>
<rect x="555" y="615" width="1" height="27" fill="#c0c0c0"/>
<rect x="563" y="607" width="1" height="35" fill="#c0c0c0"/>
<rect x="571" y="598" width="1" height="44" fill="#c0c0c0"/>
<rect x="579" y="592" width="1" height="50" fill="#c0c0c0"/>
<rect x="587" y="590" width="1" height="52" fill="#c0c0c0"/>
<rect x="595" y="587" width="1" height="55" fill="#c0c0c0"/>
<rect x="603" y="592" width="1" height="50" fill="#c0c0c0"/>
<rect x="611" y="598" width="1" height="44" fill="#c0c0c0"/>
<rect x="619" y="602" width="1" height="40" fill="#c0c0c0"/>
<rect x="627" y="606" width="1" height="36" fill="#c0c0c0"/>
<rect x="635" y="613" width="1" height="29" fill="#c0c0c0"/>
<rect x="643" y="613" width="1" height="29" fill="#c0c0c0"/>
<rect x="651" y="619" width="1" height="23" fill="#c0c0c0"/>
<rect x="659" y="629" width="1" height="13" fill="#c0c0c0"/>
<rect x="667" y="641" width="1" height="1" fill="#c0c0c0"/>
<rect x="675" y="641" width="1" height="11" fill="#c0c0c0"/>
<rect x="683" y="641" width="1" height="21" fill="#c0c0c0"/>
<rect x="691" y="641" width="1" height="26" fill="#c0c0c0"/>
<rect x="699" y="641" width="1" height="29" fill="#c0c0c0"/>
<rect x="707" y="641" width="1" height="25" fill="#c0c0c0"/>
<rect x="715" y="641" width="1" height="23" fill="#c0c0c0"/>
<rect x="723" y="641" width="1" height="23" fill="#c0c0c0"/>
<rect x="731" y="641" width="1" height="22" fill="#c0c0c0"/>
<rect x="739" y="641" width="1" height="28" fill="#c0c0c0"/>
<rect x="747" y="641" width="1" height="27" fill="#c0c0c0"/>
<rect x="755" y="641" width="1" height="30" fill="#c0c0c0"/>
<rect x="763" y="641" width="1" height="30" fill="#c0c0c0"/>
<rect x="771" y="641" width="1" height="30" fill="#c0c0c0"/>
<rect x="779" y="641" width="1" height="23" fill="#c0c0c0"/>
<rect x="787" y="641" width="1" height="21" fill="#c0c0c0"/>
<rect x="795" y="641" width="1" height="8" fill="#c0c0c0"/>
<rect x="803" y="639" width="1" height="3" fill="#c0c0c0"/>
<rect x="811" y="630" width="1" height="12" fill="#c0c0c0"/>
<rect x="819" y="619" width="1" height="23" fill="#c0c0c0"/>
<rect x="827" y="624" width="1" height="18" fill="#c0c0c0"/>
<rect x="835" y="637" width="1" height="5" fill="#c0c0c0"/>
<rect x="843" y="641" width="1" height="3" fill="#c0c0c0"/>
<rect x="851" y="641" width="1" height="15" fill="#c0c0c0"/>
<rect x="859" y="641" width="1" height="27" fill="#c0c0c0"/>
<rect x="867" y="641" width="1" height="37" fill="#c0c0c0"/>
<rect x="875" y="641" width="1" height="45" fill="#c0c0c0"/>
<rect x="883" y="641" width="1" height="51" fill="#c0c0c0"/>
<rect x="891" y="641" width="1" height="51" fill="#c0c0c0"/>
<rect x="899" y="641" width="1" height="43" fill="#c0c0c0"/>
<rect x="907" y="641" width="1" height="37" fill="#c0c0c0"/>
<rect x="915" y="641" width="1" height="35" fill="#c0c0c0"/>
<rect x="923" y="641" width="1" height="35" fill="#c0c0c0"/>
<rect x="931" y="641" width="1" height="33" fill="#c0c0c0"/>
<rect x="939" y="641" width="1" height="31" fill="#c0c0c0"/>
<rect x="947" y="641" width="1" height="30" fill="#c0c0c0"/>
<rect x="955" y="641" width="1" height="29" fill="#c0c0c0"/>
<rect x="963" y="641" width="1" height="28" fill="#c0c0c0"/>
<rect x="971" y="641" width="1" height="27" fill="#c0c0c0"/>
<rect x="979" y="641" width="1" height="35" fill="#c0c0c0"/>
<rect x="987" y="641" width="1" height="39" fill="#c0c0c0"/>
<rect x="995" y="641" width="1" height="39" fill="#c0c0c0"/>
<rect x="1003" y="641" width="1" height="43" fill="#c0c0c0"/>
<rect x="1011" y="641" width="1" height="46" fill="#c0c0c0"/>
<rect x="1019" y="641" width="1" height="46" fill="#c0c0c0"/>
<rect x="1027" y="641" width="1" height="51" fill="#c0c0c0"/>
<rect x="1035" y="641" width="1" height="56" fill="#c0c0c0"/>
<rect x="1043" y="641" width="1" height="63" fill="#c0c0c0"/>
<rect x="1051" y="641" width="1" height="76" fill="#c0c0c0"/>
<rect x="1059" y="641" width="1" height="83" fill="#c0c0c0"/>
<rect x="1067" y="641" width="1" height="87" fill="#c0c0c0"/>
<rect x="1075" y="641" width="1" height="89" fill="#c0c0c0"/>
<rect x="1083" y="641" width="1" height="88" fill="#c0c0c0"/>
<rect x="1091" y="641" width="1" height="93" fill="#c0c0c0"/>
<rect x="1099" y="641" width="1" height="93" fill="#c0c0c0"/>
<rect x="1107" y="641" width="1" height="95" fill="#c0c0c0"/>
<rect x="1115" y="641" width="1" height="93" fill="#c0c0c0"/>
<rect x="1123" y="641" width="1" height="97" fill="#c0c0c0"/>
<rect x="1131" y="641" width="1" height="93" fill="#c0c0c0"/>
<rect x="1139" y="641" width="1" height="93" fill="#c0c0c0"/>
<rect x="1147" y="641" width="1" height="85" fill="#c0c0c0"/>
<rect x="1155" y="641" width="1" height="77" fill="#c0c0c0"/>
<rect x="1163" y="641" width="1" height="67" fill="#c0c0c0"/>
<rect x="1171" y="641" width="1" height="53" fill="#c0c0c0"/>
<rect x="1179" y="641" width="1" height="47" fill="#c0c0c0"/>
<rect x="1187" y="641" width="1" height="39" fill="#c0c0c0"/>
<rect x="1195" y="641" width="1" height="35" fill="#c0c0c0"/>
<rect x="1203" y="641" width="1" height="31" fill="#c0c0c0"/>
<rect x="1211" y="641" width="1" height="29" fill="#c0c0c0"/>
<rect x="1219" y="641" width="1" height="35" fill="#c0c0c0"/>
<rect x="1227" y="641" width="1" height="41" fill="#c0c0c0"/>
<rect x="1235" y="641" width="1" height="43" fill="#c0c0c0"/>
<rect x="1243" y="641" width="1" height="41" fill="#c0c0c0"/>
<rect x="1251" y="641" width="1" height="48" fill="#c0c0c0"/>
<rect x="1259" y="641" width="1" height="51" fill="#c0c0c0"/>
<rect x="1267" y="641" width="1" height="55" fill="#c0c0c0"/>
<rect x="1275" y="641" width="1" height="53" fill="#c0c0c0"/>
<rect x="1283" y="641" width="1" height="51" fill="#c0c0c0"/>
<rect x="1291" y="641" width="1" height="41" fill="#c0c0c0"/>
<rect x="1299" y="641" width="1" height="40" fill="#c0c0c0"/>
<rect x="1307" y="641" width="1" height="44" fill="#c0c0c0"/>
<rect x="1315" y="641" width="1" height="48" fill="#c0c0c0"/>
<rect x="1323" y="641" width="1" height="44" fill="#c0c0c0"/>
<rect x="1331" y="641" width="1" height="35" fill="#c0c0c0"/>
<rect x="1339" y="641" width="1" height="32" fill="#c0c0c0"/>
<rect x="1347" y="641" width="1" height="30" fill="#c0c0c0"/>
<rect x="1355" y="641" width="1" height="36" fill="#c0c0c0"/>
<rect x="1363" y="641" width="1" height="39" fill="#c0c0c0"/>
<rect x="1371" y="641" width="1" height="34" fill="#c0c0c0"/>
<rect x="1379" y="641" width="1" height="30" fill="#c0c0c0"/>
<rect x="1387" y="641" width="1" height="26" fill="#c0c0c0"/>
<rect x="1395" y="641" width="1" height="26" fill="#c0c0c0"/>
<rect x="1403" y="641" width="1" height="15" fill="#c0c0c0"/>
<rect x="1411" y="641" width="1" height="5" fill="#c0c0c0"/>
<rect x="1419" y="641" width="1" height="1" fill="#c0c0c0"/>
<rect x="1427" y="638" width="1" height="4" fill="#c0c0c0"/>
<rect x="1435" y="630" width="1" height="12" fill="#c0c0c0"/>
<rect x="1443" y="629" width="1" height="13" fill="#c0c0c0"/>
<rect x="1451" y="629" width="1" height="13" fill="#c0c0c0"/>
<rect x="1459" y="629" width="1" height="13" fill="#c0c0c0"/>
<rect x="1467" y="630" width="1" height="12" fill="#c0c0c0"/>
<rect x="1475" y="632" width="1" height="10" fill="#c0c0c0"/>
<rect x="1483" y="636" width="1" height="6" fill="#c0c0c0"/>
<rect x="1491" y="641" width="1" height="1" fill="#c0c0c0"/>
<rect x="1499" y="641" width="1" height="7" fill="#c0c0c0"/>
</g>
<polyline points="0,670.8 11,668 19,666.2 27,666.2 35,667.5 51,667.5 59,666.2 67,664.5 75,663.8 83,663 91,662 99,660 107,659.5 115,660 123,661.2 131,665.5 139,667.5 147,671.2 155,677 163,682.5 171,688 179,693.8 187,695 195,699.2 203,700.8 211,702 219,704.2 227,705.5 235,705.8 243,705 251,704.5 259,703.2 267,703.2 275,704.5 299,704.5 307,706.2 315,708.8 323,710.8 331,712.5 339,714.2 347,715.5 355,715.5 371,716.2 379,717 387,717.5 395,718.8 403,719.2 411,720.5 419,721.2 427,722 433,722.5 443.5,722 451.5,718.2 459.5,715 467.5,710 475.5,703.8 483.5,698.2 491.5,690.5 499.5,683.8 507.5,678 515.5,671.2 523.5,665.5 531.5,662 539.5,657.5 547.5,651.2 555.5,646.2 563.5,639.5 571.5,633 579.5,626.2 587.5,618.8 595.5,612 603.5,605 611.5,600 619.5,597.5 627.5,596.2 635.5,596.2 643.5,598.8 651.5,602 659.5,607 667.5,612.5 675.5,619.2 683.5,626.2 691.5,633 699.5,641.2 707.5,647.5 715.5,653 723.5,658.8 731.5,663 739.5,664.5 747.5,667.5 755.5,668.2 763.5,668.2 771.5,668.2 779.5,668.2 787.5,668.2 795.5,665.5 803.5,663.8 811.5,657.5 819.5,653.8 827.5,647.5 835.5,643.2 843.5,641.2 851.5,640.5 859.5,640.5 866,642.5 875.5,650 883.5,656.2 891.5,663.8 899.5,671.2 907.5,676.8 915.5,679.5 923.5,681.8 931.5,682.5 939.5,682 947.5,680 955.5,678 963.5,675.8 971.5,673.8 979.5,673.2 987.5,673.2 995.5,674.5 1003.5,675 1011.5,677 1019.5,679.2 1027.5,681.2 1035.5,685 1043.5,688.2 1051.5,692.5 1059.5,697.5 1067.5,702.5 1075.5,707.5 1083.5,712 1091.5,717.5 1099.5,722.5 1107.5,726.8 1115.5,731.2 1123.5,733 1131.5,734.2 1139.5,735.5 1147.5,733.8 1155.5,733 1163.5,731.2 1171.5,727.5 1183.5,717.5 1195.5,706.2 1207.5,696.2 1219.5,688.2 1227.5,683.8 1235.5,681.8 1243.5,680.5 1251.5,680.5 1259.5,681.2 1267.5,683.2 1275.5,686.2 1283.5,688.8 1291.5,689.2 1299,689.2 1307.5,690 1315.5,690.5 1323.5,690.5 1331.5,688 1339.5,685 1347.5,682 1355.5,681.2 1363.5,680.5 1371.5,679.5 1379.5,677.5 1387.5,675 1395.5,673.2 1403.5,671.2 1411.5,668 1419.5,663.8 1427.5,659.5 1435.5,653.8 1443.5,648.8 1451.5,644.5 1459.5,640 1467.5,636.2 1475.5,634.2 1483.5,632.5 1489,632" fill="none" stroke="#ff0000" stroke-width="1" stroke-dasharray="2.2 2.2"/>
<text x="0" y="589.5" class="ax" style="letter-spacing:-0.35px">MACD(12,26,9) -0.000580 0.000767</text>
<line x1="1147" y1="732.5" x2="1458" y2="625.4" stroke="#ff0000" stroke-width="3.2" stroke-linecap="round"/>
<polygon points="1466.5,622.5 1457.5,630.2 1454.7,621.9" fill="#ff0000"/>
<line x1="1466.5" y1="622.5" x2="1524.3" y2="643.9" stroke="#ff0000" stroke-width="3.2" stroke-linecap="round"/>
<polygon points="1532.7,647 1520.9,647.3 1523.9,639.1" fill="#ff0000"/>
</g>
<g id="rsi">
<line x1="2" y1="785.5" x2="1685" y2="785.5" stroke="#c0c0c0" stroke-width="1" stroke-dasharray="3 2.4" shape-rendering="crispEdges"/>
<line x1="2" y1="836.5" x2="1685" y2="836.5" stroke="#c0c0c0" stroke-width="1" stroke-dasharray="3 2.4" shape-rendering="crispEdges"/>
<line x1="2" y1="897.5" x2="1685" y2="897.5" stroke="#c0c0c0" stroke-width="1" stroke-dasharray="3 2.4" shape-rendering="crispEdges"/>
<polyline points="-5,848.5 3,848 11,849.2 19,837.2 27,850 35,840.5 43,838.5 51,836.8 59,835 67,837.2 75,851 83,840.5 91,839.2 99,840.5 107,846.8 115,858 123,861.2 131,863.5 139,859.2 147,859.2 155,869.2 163,860.5 171,864.2 179,850 187,854.2 195,850 203,851.2 211,864.2 219,867.5 227,856 235,844.2 243,844.2 251,849.2 259,854.2 267,862.2 275,865.5 283,858.5 291,858 299,861.8 307,869.2 315,858 323,862.5 331,859.2 339,860.5 347,852.5 355,859.2 363,862.5 371,864.2 379,868 387,869.8 395,874.2 403,870.5 411,871.2 419,848.5 427,861.2 435,855 443,850.5 451,828.5 459,840.5 467,835.5 475,834.2 483,836 491,837.5 499,834.2 507,836 515,842.5 523,834.8 531,833.5 539,817.2 547,818.8 555,807.2 563,815.5 571,810 579,813.5 587,818.5 595,814.2 603,828.8 611,833.5 619,830 627,832.2 635,839.8 643,828.5 651,839.2 659,849.2 667,856.2 675,856.2 683,859.8 691,853 699,851 707,836.2 715,843 723,844.8 731,842.2 739,853.5 747,846.2 755,849.8 763,847.5 771,846.2 779,834.2 787,837.5 795,818.8 803,817.2 811,817.2 819,810.5 827,836.8 835,853.5 843,849.2 851,854.2 859,860.5 867,860.5 875,862.5 883,857.2 891,852.5 899,838 907,839.2 915,840 923,848.5 931,842.2 939,845.5 947,845.5 955,843.8 963,846.2 971,848.5 979,861.2 987,859.2 995,854.8 1003,860.5 1011,860.5 1019,858 1027,867.2 1035,869.2 1043,876.2 1051,884.2 1059,884.2 1067,876.8 1075,873 1083,870 1091,880.5 1099,871 1107,873.5 1115,870.5 1123,878.5 1131,864.8 1139,867.5 1147,853 1155,849.2 1163,840 1171,832.2 1179,841.8 1187,838.5 1195,841.2 1203,841.2 1211,844.2 1219,858 1227,862.5 1235,860.5 1243,846.2 1251,861.2 1259,862.5 1267,858 1275,852.5 1283,849.2 1291,839.2 1299,850 1307,851.2 1315,859.2 1323,843 1331,836 1339,839.2 1347,843 1355,856.2 1363,851.8 1371,839.2 1379,839.2 1387,837.2 1395,844.2 1403,825.5 1411,824.2 1419,828 1427,829.2 1435,822.2 1443,833.5 1451,833.5 1459,827.5 1467,836.8 1475,838.5 1483,842.2 1491,848.5 1499,848.5" fill="none" stroke="#1e90ff" stroke-width="1" />
<text x="0" y="761.5" class="ax" style="letter-spacing:-0.35px">RSI(14) 43.1839</text>
<line x1="1099.7" y1="885.5" x2="1430.2" y2="816.1" stroke="#ff0000" stroke-width="3.2" stroke-linecap="round"/>
<polygon points="1439,814.2 1429.1,820.8 1427.3,812.2" fill="#ff0000"/>
<line x1="1439" y1="814.2" x2="1518.3" y2="849.8" stroke="#ff0000" stroke-width="3.2" stroke-linecap="round"/>
<polygon points="1526.5,853.5 1514.7,853 1518.3,845" fill="#ff0000"/>
</g>
<g shape-rendering="crispEdges" fill="#000">
<rect x="0" y="22" width="1686" height="1"/>
<rect x="1685" y="22" width="1" height="902"/>
<rect x="0" y="575" width="1686" height="1"/>
<rect x="0" y="576" width="1685" height="1" fill="#fff"/>
<rect x="0" y="577" width="1686" height="1"/>
<rect x="0" y="747" width="1686" height="1"/>
<rect x="0" y="748" width="1685" height="1" fill="#fff"/>
<rect x="0" y="749" width="1686" height="1"/>
<rect x="0" y="923" width="1687" height="1"/>
<rect x="1686" y="44" width="2" height="1"/>
<rect x="1686" y="77" width="2" height="1"/>
<rect x="1686" y="110" width="2" height="1"/>
<rect x="1686" y="143" width="2" height="1"/>
<rect x="1686" y="176" width="2" height="1"/>
<rect x="1686" y="209" width="2" height="1"/>
<rect x="1686" y="242" width="2" height="1"/>
<rect x="1686" y="275" width="2" height="1"/>
<rect x="1686" y="308" width="2" height="1"/>
<rect x="1686" y="341" width="2" height="1"/>
<rect x="1686" y="374" width="2" height="1"/>
<rect x="1686" y="407" width="2" height="1"/>
<rect x="1686" y="440" width="2" height="1"/>
<rect x="1686" y="473" width="2" height="1"/>
<rect x="1686" y="539" width="2" height="1"/>
<rect x="1686" y="572" width="2" height="1"/>
<rect x="1686" y="579" width="1.3" height="1"/><rect x="1686" y="746" width="1.3" height="1"/><rect x="1686" y="751" width="1.3" height="1"/><rect x="1686" y="922" width="1.3" height="1"/>
<rect x="59" y="924" width="1" height="4"/>
<rect x="123" y="924" width="1" height="4"/>
<rect x="187" y="924" width="1" height="4"/>
<rect x="251" y="924" width="1" height="4"/>
<rect x="315" y="924" width="1" height="4"/>
<rect x="379" y="924" width="1" height="4"/>
<rect x="443" y="924" width="1" height="4"/>
<rect x="507" y="924" width="1" height="4"/>
<rect x="571" y="924" width="1" height="4"/>
<rect x="635" y="924" width="1" height="4"/>
<rect x="699" y="924" width="1" height="4"/>
<rect x="763" y="924" width="1" height="4"/>
<rect x="827" y="924" width="1" height="4"/>
<rect x="891" y="924" width="1" height="4"/>
<rect x="955" y="924" width="1" height="4"/>
<rect x="1019" y="924" width="1" height="4"/>
<rect x="1083" y="924" width="1" height="4"/>
<rect x="1147" y="924" width="1" height="4"/>
<rect x="1211" y="924" width="1" height="4"/>
<rect x="1275" y="924" width="1" height="4"/>
<rect x="1339" y="924" width="1" height="4"/>
<rect x="1403" y="924" width="1" height="4"/>
<rect x="1467" y="924" width="1" height="4"/>
</g>
<text x="1691.3" y="48.1" class="ax">1.36570</text>
<text x="1691.3" y="81.1" class="ax">1.35890</text>
<text x="1691.3" y="114.1" class="ax">1.35210</text>
<text x="1691.3" y="147.1" class="ax">1.34530</text>
<text x="1691.3" y="180.1" class="ax">1.33850</text>
<text x="1691.3" y="213.1" class="ax">1.33150</text>
<text x="1691.3" y="246.1" class="ax">1.32470</text>
<text x="1691.3" y="279.1" class="ax">1.31790</text>
<text x="1691.3" y="312.1" class="ax">1.31110</text>
<text x="1691.3" y="345.1" class="ax">1.30430</text>
<text x="1691.3" y="378.1" class="ax">1.29750</text>
<text x="1691.3" y="411.1" class="ax">1.29070</text>
<text x="1691.3" y="444.1" class="ax">1.28390</text>
<text x="1691.3" y="477.1" class="ax">1.27710</text>
<text x="1691.3" y="543.1" class="ax">1.26350</text>
<text x="1691.3" y="576.1" class="ax">1.25670</text>
<rect x="1687" y="462" width="41" height="11" fill="#ff0000" shape-rendering="crispEdges"/>
<text x="1691.3" y="471.1" class="axw">1.27816</text>
<rect x="1687" y="481" width="41" height="11" fill="#ff0000" shape-rendering="crispEdges"/>
<text x="1691.3" y="490.1" class="axw">1.27424</text>
<rect x="1687" y="495" width="41" height="11" fill="#ffa500" shape-rendering="crispEdges"/>
<text x="1691.3" y="504.1" class="axw">1.27136</text>
<rect x="1687" y="506" width="41" height="9" fill="#000000" shape-rendering="crispEdges"/>
<text x="1691.3" y="514.1" class="axw">1.26968</text>
<rect x="1687" y="524" width="41" height="11" fill="#0000ff" shape-rendering="crispEdges"/>
<text x="1691.3" y="533.1" class="axw">1.26538</text>
<rect x="1687" y="540" width="41" height="11" fill="#0000ff" shape-rendering="crispEdges"/>
<text x="1691.3" y="549.1" class="axw">1.26208</text>
<text x="1689" y="588.6" class="ax">0.005908</text>
<text x="1689" y="645" class="ax">0.00</text>
<text x="1689" y="744" class="ax">-0.009851</text>
<text x="1689.5" y="759.8" class="ax">100</text>
<text x="1689.5" y="789" class="ax">80</text>
<text x="1689.5" y="840.2" class="ax">50</text>
<text x="1689.5" y="901" class="ax">15</text>
<text x="1689.5" y="920.2" class="ax">0</text>
<text x="-5.5" y="935.5" class="ax" style="letter-spacing:-0.3px">4 Jul 2020</text>
<text x="58" y="935.5" class="ax" style="letter-spacing:-0.4px">13 Jul 2020</text>
<text x="122" y="935.5" class="ax" style="letter-spacing:-0.4px">22 Jul 2020</text>
<text x="186" y="935.5" class="ax" style="letter-spacing:-0.4px">31 Jul 2020</text>
<text x="250" y="935.5" class="ax" style="letter-spacing:-0.4px">10 Aug 2020</text>
<text x="314" y="935.5" class="ax" style="letter-spacing:-0.4px">19 Aug 2020</text>
<text x="378" y="935.5" class="ax" style="letter-spacing:-0.4px">28 Aug 2020</text>
<text x="442" y="935.5" class="ax" style="letter-spacing:-0.4px">7 Sep 2020</text>
<text x="506" y="935.5" class="ax" style="letter-spacing:-0.4px">16 Sep 2020</text>
<text x="570" y="935.5" class="ax" style="letter-spacing:-0.4px">25 Sep 2020</text>
<text x="634" y="935.5" class="ax" style="letter-spacing:-0.4px">5 Oct 2020</text>
<text x="698" y="935.5" class="ax" style="letter-spacing:-0.4px">14 Oct 2020</text>
<text x="762" y="935.5" class="ax" style="letter-spacing:-0.4px">23 Oct 2020</text>
<text x="826" y="935.5" class="ax" style="letter-spacing:-0.4px">2 Nov 2020</text>
<text x="890" y="935.5" class="ax" style="letter-spacing:-0.4px">11 Nov 2020</text>
<text x="954" y="935.5" class="ax" style="letter-spacing:-0.4px">20 Nov 2020</text>
<text x="1018" y="935.5" class="ax" style="letter-spacing:-0.4px">30 Nov 2020</text>
<text x="1082" y="935.5" class="ax" style="letter-spacing:-0.4px">9 Dec 2020</text>
<text x="1146" y="935.5" class="ax" style="letter-spacing:-0.4px">18 Dec 2020</text>
<text x="1210" y="935.5" class="ax" style="letter-spacing:-0.4px">29 Dec 2020</text>
<text x="1274" y="935.5" class="ax" style="letter-spacing:-0.4px">8 Jan 2021</text>
<text x="1338" y="935.5" class="ax" style="letter-spacing:-0.4px">18 Jan 2021</text>
<text x="1402" y="935.5" class="ax" style="letter-spacing:-0.4px">27 Jan 2021</text>
<text x="1466" y="935.5" class="ax" style="letter-spacing:-0.4px">5 Feb 2021</text>
<polygon points="1509,23 1520,23 1514.5,28.5" fill="#b4b4b4"/>
<g id="panel">
<rect x="0" y="42" width="217" height="64" fill="#fff"/>
<rect x="0" y="42" width="50" height="24" fill="url(#gs)"/>
<rect x="165" y="42" width="52" height="24" fill="url(#gs)"/>
<rect x="0" y="66" width="107" height="40" fill="url(#gp)"/>
<rect x="109" y="66" width="108" height="40" fill="url(#gp)"/>
<rect x="2" y="65.3" width="44" height="0.9" fill="#f58a8a"/>
<rect x="169" y="65.3" width="44" height="0.9" fill="#f58a8a"/>
<text x="23.2" y="57.6" text-anchor="middle" style="font-size:12px" fill="#fff" textLength="25.5" lengthAdjust="spacingAndGlyphs">SELL</text>
<text x="190" y="57.6" text-anchor="middle" style="font-size:12px" fill="#fff" textLength="22.6" lengthAdjust="spacingAndGlyphs">BUY</text>
<rect x="52" y="42.5" width="111" height="21" fill="#fff" stroke="#b4b8c8" stroke-width="1"/>
<rect x="53" y="43.5" width="20" height="19" fill="url(#gb)" stroke="#c8c8d0" stroke-width="0.6"/>
<rect x="142" y="43.5" width="20" height="19" fill="url(#gb)" stroke="#c8c8d0" stroke-width="0.6"/>
<path d="M60 51 L65 51 L62.5 54 Z" fill="#5060c0"/>
<path d="M149 54 L154 54 L151.5 51 Z" fill="#5060c0"/>
<text x="137.5" y="57" text-anchor="end" style="font-size:12.5px;letter-spacing:-0.3px" fill="#000">1.00</text>
<text x="18.5" y="96.6" style="font-size:11.5px;font-weight:bold;letter-spacing:0.25px" fill="#fff">1.26</text>
<text x="44.5" y="96.8" style="font-size:33px;letter-spacing:-0.6px" fill="#fff" stroke="#c82020" stroke-width="0.5">96</text>
<text x="85.5" y="80.8" style="font-size:11px;font-weight:bold" fill="#fff">8</text>
<text x="128.5" y="96.6" style="font-size:11.5px;font-weight:bold;letter-spacing:0.25px" fill="#fff">1.26</text>
<text x="156" y="96.8" style="font-size:33px;letter-spacing:-0.6px" fill="#fff" stroke="#c82020" stroke-width="0.5">99</text>
<text x="196.3" y="80.8" style="font-size:11px;font-weight:bold" fill="#fff">6</text>
</g>
<g id="toolbar">
<rect x="0" y="0" width="1732" height="18" fill="#f0f0f0"/>
<rect x="0" y="18" width="1732" height="2" fill="url(#gt)"/>
<defs><linearGradient id="gold" x1="0" y1="0" x2="1" y2="1"><stop offset="0" stop-color="#f8dc50"/><stop offset="1" stop-color="#b87c08"/></linearGradient><linearGradient id="grn" x1="0" y1="0" x2="0" y2="1"><stop offset="0" stop-color="#60e860"/><stop offset="1" stop-color="#08a008"/></linearGradient><radialGradient id="lens" cx="0.4" cy="0.35" r="0.7"><stop offset="0" stop-color="#f4faff"/><stop offset="1" stop-color="#b8d4f4"/></radialGradient><linearGradient id="cloud" x1="0" y1="0" x2="0" y2="1"><stop offset="0" stop-color="#ffffff"/><stop offset="1" stop-color="#c4cce0"/></linearGradient><radialGradient id="clk" cx="0.4" cy="0.35" r="0.7"><stop offset="0" stop-color="#ffffff"/><stop offset="1" stop-color="#d8e4f4"/></radialGradient><pattern id="dots" width="2" height="2" patternUnits="userSpaceOnUse"><rect width="2" height="2" fill="#fbfbfb"/><rect width="1" height="1" fill="#ededed"/><rect x="1" y="1" width="1" height="1" fill="#ededed"/></pattern></defs>
<rect x="-3" y="-3" width="11.5" height="15.5" fill="#fff" stroke="#3c7cc4" stroke-width="1"/>
<rect x="0" y="2" width="7" height="0.9" fill="#a4c4ee"/>
<rect x="0" y="4.3" width="7" height="0.9" fill="#a4c4ee"/>
<rect x="0" y="6.6" width="7" height="0.9" fill="#a4c4ee"/>
<rect x="0" y="8.9" width="7" height="0.9" fill="#a4c4ee"/>
<rect x="22" y="-3" width="11" height="14.5" fill="#fbfaf6" stroke="#b8a890" stroke-width="1"/>
<rect x="27" y="3" width="3" height="6" fill="#8c98a8"/>
<circle cx="29.5" cy="7.3" r="4.9" fill="url(#lens)" fill-opacity="0.85" stroke="#5c8cd8" stroke-width="1.1"/>
<path d="M33.3 11 L38 15.2" stroke="#c8900c" stroke-width="2.2" stroke-linecap="round"/>
<rect x="46" y="0" width="1" height="15.5" fill="#a8a8a8"/>
<path d="M56.8 -2 H64.5 L67.4 1 V11.3 H56.8 Z" fill="#fff" stroke="#8c8c8c" stroke-width="1"/>
<rect x="58.3" y="0.8" width="2" height="1.6" fill="#707070"/>
<rect x="58.3" y="3.6" width="6.5" height="0.9" fill="#9a9a9a"/><rect x="58.3" y="5.9" width="5" height="0.9" fill="#9a9a9a"/><rect x="58.3" y="7.7" width="3" height="0.9" fill="#9a9a9a"/>
<path d="M64.1 4.5 H67.9 V8.2 H71.7 V11.9 H67.9 V15.6 H64.1 V11.9 H60.3 V8.2 H64.1 Z" fill="url(#grn)" stroke="#0a800a" stroke-width="0.7"/>
<text x="75.2" y="8.4" style="font-family:'Liberation Sans','Noto Sans CJK SC',sans-serif;font-size:12px" fill="#000">新订单</text>
<path d="M123.3 7.6 L130.9 -1 L138.9 6.9 L131.5 13.6 Z" fill="url(#gold)" stroke="#a06c08" stroke-width="0.9" stroke-linejoin="round"/>
<path d="M124.5 9 L131.6 14.8 L138.5 8.5" fill="none" stroke="#b88410" stroke-width="1.2"/>
<rect x="153.3" y="-2" width="10.8" height="9.5" fill="#2c8ce8" stroke="#1c6cc8" stroke-width="0.8"/>
<rect x="157" y="1.3" width="6" height="2.4" fill="#8cc8f8"/>
<path d="M153.5 13.3 a3 3 0 0 1 0.6 -5.8 a3.6 3.6 0 0 1 6.6 -1.2 a3 3 0 0 1 4.6 2 a2.6 2.6 0 0 1 -0.4 5 Z" fill="url(#cloud)" stroke="#5874ac" stroke-width="0.9"/>
<circle cx="187.1" cy="5.9" r="7.6" fill="#e8eef8" stroke="#b0c0e0" stroke-width="0.6"/>
<path d="M187.1 5.9 L187.3 13.6 A7.7 7.7 0 0 0 193.5 1.5 Z" fill="#78b878" fill-opacity="0.85"/>
<circle cx="187.1" cy="5.9" r="6.6" fill="none" stroke="#88a8e0" stroke-width="0.9"/>
<circle cx="187.1" cy="5.9" r="4.6" fill="none" stroke="#6088d8" stroke-width="0.9"/>
<circle cx="187.1" cy="5.9" r="2.7" fill="none" stroke="#4c78d0" stroke-width="0.9"/>
<circle cx="187.1" cy="5.9" r="1.6" fill="#2c58c8"/>
<path d="M187.4 6.5 V13.6" stroke="#18a018" stroke-width="1.3"/>
<ellipse cx="214.2" cy="2.2" rx="7.8" ry="3" fill="#58a4d8" stroke="#3880b8" stroke-width="0.7"/>
<path d="M209.5 0.5 Q214.2 -4 219 0.5 Z" fill="#78bce8"/>
<path d="M207.2 5.2 H221.7 L215.6 13.4 H213.6 Z" fill="#f8d848" stroke="#c8a010" stroke-width="0.7"/>
<circle cx="218.4" cy="9.7" r="4.1" fill="#e02010" stroke="#b01008" stroke-width="0.6"/>
<rect x="216.8" y="8.1" width="3.2" height="3.2" fill="#fff"/>
<text x="228.3" y="8.4" style="font-family:'Liberation Sans','Noto Sans CJK SC',sans-serif;font-size:12px;letter-spacing:-0.35px" fill="#000">自动交易</text>
<!--TB2-->
<rect x="282" y="0" width="1" height="18" fill="#909090"/>
<rect x="283" y="0" width="1" height="18" fill="#fafafa"/>
<rect x="286" y="0.3" width="3" height="0.9" fill="#b4b4b4"/>
<rect x="286" y="2.3" width="3" height="0.9" fill="#b4b4b4"/>
<rect x="286" y="4.3" width="3" height="0.9" fill="#b4b4b4"/>
<rect x="286" y="6.3" width="3" height="0.9" fill="#b4b4b4"/>
<rect x="286" y="8.3" width="3" height="0.9" fill="#b4b4b4"/>
<rect x="286" y="10.3" width="3" height="0.9" fill="#b4b4b4"/>
<rect x="286" y="12.3" width="3" height="0.9" fill="#b4b4b4"/>
<rect x="286" y="14.3" width="3" height="0.9" fill="#b4b4b4"/>
<path d="M300.5 0 V13.9 M298.1 11.4 H310.9" stroke="#5c5c5c" stroke-width="1.2" fill="none"/>
<path d="M309.8 9.7 L311.9 11.4 L309.8 13.1 Z M298.8 1.8 L300.5 -0.4 L302.2 1.8 Z" fill="#5c5c5c"/>
<path d="M306.8 1.4 V9.4 M306.8 2.6 H309 M304.4 8.7 H306.8" stroke="#10a010" stroke-width="1.4" fill="none"/>
<rect x="320" y="0" width="1" height="15.6" fill="#a0a0a0"/>
<rect x="321" y="0" width="24.69999999999999" height="16" fill="url(#dots)"/>
<path d="M328.3 0 V13.9 M325.90000000000003 11.4 H338.7" stroke="#5c5c5c" stroke-width="1.2" fill="none"/>
<path d="M337.6 9.7 L339.7 11.4 L337.6 13.1 Z M326.6 1.8 L328.3 -0.4 L330.0 1.8 Z" fill="#5c5c5c"/>
<rect x="332.5" y="-1" width="4.4" height="8.5" fill="#58e058" stroke="#10a010" stroke-width="0.9"/><rect x="334.2" y="7.5" width="1.2" height="2.3" fill="#10a010"/>
<path d="M356.4 0 V13.9 M354.0 11.4 H366.79999999999995" stroke="#5c5c5c" stroke-width="1.2" fill="none"/>
<path d="M365.7 9.7 L367.79999999999995 11.4 L365.7 13.1 Z M354.7 1.8 L356.4 -0.4 L358.09999999999997 1.8 Z" fill="#5c5c5c"/>
<path d="M355 8.8 C357.5 7 359.5 2.6 361.5 3.1 S365 6.6 366.9 7.4" stroke="#20a030" stroke-width="1.3" fill="none"/>
<rect x="377" y="0" width="1" height="15.6" fill="#a0a0a0"/>
<path d="M395.90000000000003 7.6 L401.1 12.8" stroke="#a88008" stroke-width="3.4" stroke-linecap="round"/><path d="M395.90000000000003 7.6 L401.1 12.8" stroke="#e8c838" stroke-width="2" stroke-linecap="round"/>
<circle cx="392.1" cy="3.8" r="5.5" fill="url(#lens)" stroke="#2878d0" stroke-width="1.2"/>
<rect x="389.0" y="2.8" width="6.2" height="2" fill="#3888b8"/>
<rect x="391.1" y="0.7" width="2" height="6.3" fill="#3888b8"/>
<path d="M424.0 7.6 L429.2 12.8" stroke="#a88008" stroke-width="3.4" stroke-linecap="round"/><path d="M424.0 7.6 L429.2 12.8" stroke="#e8c838" stroke-width="2" stroke-linecap="round"/>
<circle cx="420.2" cy="3.8" r="5.5" fill="url(#lens)" stroke="#2878d0" stroke-width="1.2"/>
<rect x="417.09999999999997" y="2.8" width="6.2" height="2" fill="#3888b8"/>
<rect x="442.4" y="-1" width="7.6" height="7.4" rx="0.8" fill="#38a020"/>
<rect x="443.9" y="1.7999999999999998" width="4.8" height="2.6" fill="#f0f4ff"/><rect x="444.79999999999995" y="2.6" width="3" height="0.8" fill="#38a020" fill-opacity="0.6"/>
<rect x="450.3" y="-1" width="7.6" height="7.4" rx="0.8" fill="#2454d4"/>
<rect x="451.8" y="1.7999999999999998" width="4.8" height="2.6" fill="#f0f4ff"/><rect x="452.7" y="2.6" width="3" height="0.8" fill="#2454d4" fill-opacity="0.6"/>
<rect x="442.2" y="6.3" width="7.6" height="7.4" rx="0.8" fill="#2454d4"/>
<rect x="443.7" y="9.1" width="4.8" height="2.6" fill="#f0f4ff"/><rect x="444.59999999999997" y="9.9" width="3" height="0.8" fill="#2454d4" fill-opacity="0.6"/>
<rect x="450.3" y="6.3" width="7.6" height="7.4" rx="0.8" fill="#38a020"/>
<rect x="451.8" y="9.1" width="4.8" height="2.6" fill="#f0f4ff"/><rect x="452.7" y="9.9" width="3" height="0.8" fill="#38a020" fill-opacity="0.6"/>
<rect x="467" y="0" width="1" height="15.6" fill="#a0a0a0"/>
<rect x="472" y="0" width="1" height="15.6" fill="#a0a0a0"/>
<rect x="473.2" y="0" width="23.5" height="16" fill="url(#dots)"/>
<path d="M480.3 0 V13.9 M477.90000000000003 11.4 H490.7" stroke="#5c5c5c" stroke-width="1.2" fill="none"/>
<path d="M489.6 9.7 L491.7 11.4 L489.6 13.1 Z M478.6 1.8 L480.3 -0.4 L482.0 1.8 Z" fill="#5c5c5c"/>
<path d="M485.3 2.1 V8.7 L488.8 5.4 Z" fill="#80e080" stroke="#10a010" stroke-width="1.2" stroke-linejoin="round"/>
<rect x="500" y="0" width="1" height="15.6" fill="#a0a0a0"/>
<rect x="501.2" y="0" width="23.599999999999966" height="16" fill="url(#dots)"/>
<path d="M508.5 0 V13.9 M506.1 11.4 H518.9" stroke="#5c5c5c" stroke-width="1.2" fill="none"/>
<path d="M517.8 9.7 L519.9 11.4 L517.8 13.1 Z M506.8 1.8 L508.5 -0.4 L510.2 1.8 Z" fill="#5c5c5c"/>
<path d="M514.6 0 V9.7" stroke="#1878b0" stroke-width="1.3"/>
<path d="M515.6 5.4 H519.8 M515.6 5.4 L517.8 3.4 M515.6 5.4 L517.8 7.4" stroke="#e04800" stroke-width="1.2" fill="none"/>
<rect x="529" y="0" width="1" height="15.6" fill="#a0a0a0"/>
<path d="M539.8 -2 H547.5 L550.4 1 V11.3 H539.8 Z" fill="#fff" stroke="#8c8c8c" stroke-width="1"/>
<rect x="541.5" y="1.5" width="1.2" height="6" fill="#a09070"/>
<path d="M547.3 4.5 H551.1 V8.2 H554.9 V11.9 H551.1 V15.6 H547.3 V11.9 H543.5 V8.2 H547.3 Z" fill="url(#grn)" stroke="#0a800a" stroke-width="0.7"/>
<path d="M560.6999999999999 5.1 H566.1 L563.4 8 Z" fill="#000"/>
<circle cx="584.9" cy="5.9" r="7.1" fill="url(#clk)" stroke="#1660c8" stroke-width="2"/>
<circle cx="584.9" cy="5.9" r="8" fill="none" stroke="#0c48a0" stroke-width="0.6"/>
<path d="M584.6 1.5 V6 H587.6" stroke="#202020" stroke-width="1.1" fill="none"/>
<rect x="583.9" y="8.2" width="2" height="0.7" fill="#70a8f0"/>
<path d="M599.8 5.1 H605.2 L602.5 8 Z" fill="#000"/>
<rect x="616.7" y="-1" width="15" height="13.6" fill="#fff" stroke="#3070c8" stroke-width="1"/>
<rect x="617" y="-1" width="14.4" height="2.4" fill="#4c88dc"/>
<rect x="617" y="6.5" width="14.4" height="0.9" fill="#3070c8"/>
<path d="M618.3 5.3 H620.5 L622.5 3.8 H624.5 L625.5 4.6 H627.5 L629 3.3 H630.2" stroke="#a02808" stroke-width="1.2" fill="none"/>
<path d="M618.8 10.4 H620.5 L622 9.5 L623.8 10.5 L626.6 8.2 L628.2 9 L629.8 10.6" stroke="#109010" stroke-width="1.2" fill="none"/>
<path d="M638.6999999999999 5.1 H644.1 L641.4 8 Z" fill="#000"/>
<rect x="650" y="0" width="1" height="18" fill="#909090"/>
<rect x="651" y="0" width="1" height="18" fill="#fafafa"/>
<rect x="654.2" y="0.3" width="3" height="0.9" fill="#b4b4b4"/>
<rect x="654.2" y="2.3" width="3" height="0.9" fill="#b4b4b4"/>
<rect x="654.2" y="4.3" width="3" height="0.9" fill="#b4b4b4"/>
<rect x="654.2" y="6.3" width="3" height="0.9" fill="#b4b4b4"/>
<rect x="654.2" y="8.3" width="3" height="0.9" fill="#b4b4b4"/>
<rect x="654.2" y="10.3" width="3" height="0.9" fill="#b4b4b4"/>
<rect x="654.2" y="12.3" width="3" height="0.9" fill="#b4b4b4"/>
<rect x="654.2" y="14.3" width="3" height="0.9" fill="#b4b4b4"/>
<rect x="660" y="0" width="1" height="15.8" fill="#a0a0a0"/>
<rect x="661" y="0" width="24" height="16" fill="url(#dots)"/>
<path d="M668.3 -1 V9.4 L670.7 7.3 L673 12.8 L674.6 12.1 L672.3 6.8 L676 6.6 Z" fill="#585858"/>
<path d="M693 6.4 H699.2 M702 6.4 H708 M700.5 0 V5.8 M700.5 7.2 V13.9" stroke="#404040" stroke-width="1.2" fill="none"/>
<rect x="717" y="0" width="1" height="15.8" fill="#a0a0a0"/>
<path d="M734.3 0 V12.8 M757 6.4 H769 M784.8 12.8 L797.3 1" stroke="#404040" stroke-width="1.2" fill="none"/>
<path d="M811 7.8 L821 -0.5 M812.6 12.6 L824.4 4 M812.6 10 L822.6 2" stroke="#505050" stroke-width="1" fill="none"/>
<path d="M814.5 5 L815.5 10.5 M817.2 3 L818.2 8.5 M819.8 1 L820.8 6.5 M822.2 0 L823 5" stroke="#505050" stroke-width="0.9" fill="none"/>
<text x="821.6" y="14.7" style="font-size:6.6px;font-weight:bold" fill="#404040">E</text>
<path d="M840 2.6 H853" stroke="#606060" stroke-width="1" stroke-dasharray="1 1" fill="none"/>
<path d="M840 6.6 H853" stroke="#606060" stroke-width="1" stroke-dasharray="1 1" fill="none"/>
<path d="M840 10.5 H848.6" stroke="#606060" stroke-width="1" stroke-dasharray="1 1" fill="none"/>
<text x="849.7" y="14.7" style="font-size:6.6px;font-weight:bold" fill="#404040">F</text>
<text x="870.6" y="10.9" style="font-size:12px;font-weight:bold" fill="#555" textLength="8" lengthAdjust="spacingAndGlyphs">A</text>
<rect x="897.4" y="-0.5" width="11" height="13" fill="none" stroke="#606060" stroke-width="1" stroke-dasharray="1 1"/>
<text x="899.3" y="10.7" style="font-size:10.6px;font-weight:bold" fill="#555" textLength="7.4" lengthAdjust="spacingAndGlyphs">T</text>
<path d="M924 2.6 L927.5 -1 L931 2.6 L927.5 4.4 Z M931.3 9.2 L934.6 7.9 L937.9 9.2 L934.6 12.8 Z" fill="#505050"/>
<path d="M926.4 7.6 L928.2 9.4 L932.7 4.5" stroke="#505050" stroke-width="1.3" fill="none"/>
<path d="M944.8 5.1 H950.2 L947.5 8 Z" fill="#000"/>
<rect x="956" y="0" width="1" height="18" fill="#909090"/>
<rect x="957" y="0" width="1" height="18" fill="#fafafa"/>
<rect x="960" y="0.3" width="3" height="0.9" fill="#b4b4b4"/>
<rect x="960" y="2.3" width="3" height="0.9" fill="#b4b4b4"/>
<rect x="960" y="4.3" width="3" height="0.9" fill="#b4b4b4"/>
<rect x="960" y="6.3" width="3" height="0.9" fill="#b4b4b4"/>
<rect x="960" y="8.3" width="3" height="0.9" fill="#b4b4b4"/>
<rect x="960" y="10.3" width="3" height="0.9" fill="#b4b4b4"/>
<rect x="960" y="12.3" width="3" height="0.9" fill="#b4b4b4"/>
<rect x="960" y="14.3" width="3" height="0.9" fill="#b4b4b4"/>
<rect x="1135" y="0" width="24.5" height="16" fill="url(#dots)"/>
<rect x="1134" y="0" width="1" height="16" fill="#a0a0a0"/>
<text x="971.8" y="9.9" class="tb" textLength="12.2" lengthAdjust="spacingAndGlyphs">M1</text>
<text x="999.9" y="9.9" class="tb" textLength="12.1" lengthAdjust="spacingAndGlyphs">M5</text>
<text x="1025.6" y="9.9" class="tb" textLength="17.4" lengthAdjust="spacingAndGlyphs">M15</text>
<text x="1053.6" y="9.9" class="tb" textLength="17.4" lengthAdjust="spacingAndGlyphs">M30</text>
<text x="1084.6" y="9.9" class="tb" textLength="11.7" lengthAdjust="spacingAndGlyphs">H1</text>
<text x="1111.7" y="9.9" class="tb" textLength="12.6" lengthAdjust="spacingAndGlyphs">H4</text>
<text x="1140.7" y="9.9" class="tb" textLength="12.1" lengthAdjust="spacingAndGlyphs">D1</text>
<text x="1167.8" y="9.9" class="tb" textLength="14.2" lengthAdjust="spacingAndGlyphs">W1</text>
<text x="1194.6" y="9.9" class="tb" textLength="15.1" lengthAdjust="spacingAndGlyphs">MN</text>
<rect x="1217" y="0" width="1" height="18" fill="#a0a0a0"/>
<path d="M1685.2 6.3 L1680 10.8" stroke="#2c58c8" stroke-width="2.2" stroke-linecap="round"/>
<circle cx="1687.8" cy="3.6" r="3.5" fill="#f4f6fc" stroke="#3060d0" stroke-width="1.3"/>
<path d="M1704.5 8 a5 4 0 1 1 6 3.8 l-3 2.6 l0.4 -2.4 a5 4 0 0 1 -3.4 -4 Z" fill="#e0e2ea" stroke="#b0b0b8" stroke-width="0.7"/>
<circle cx="1718.6" cy="3" r="8.4" fill="#dc3418"/>
<text x="1718.4" y="8.1" text-anchor="middle" style="font-family:'Liberation Serif',serif;font-size:12px;font-weight:bold" fill="#fff">1</text>
</g>
</svg></body></html>
